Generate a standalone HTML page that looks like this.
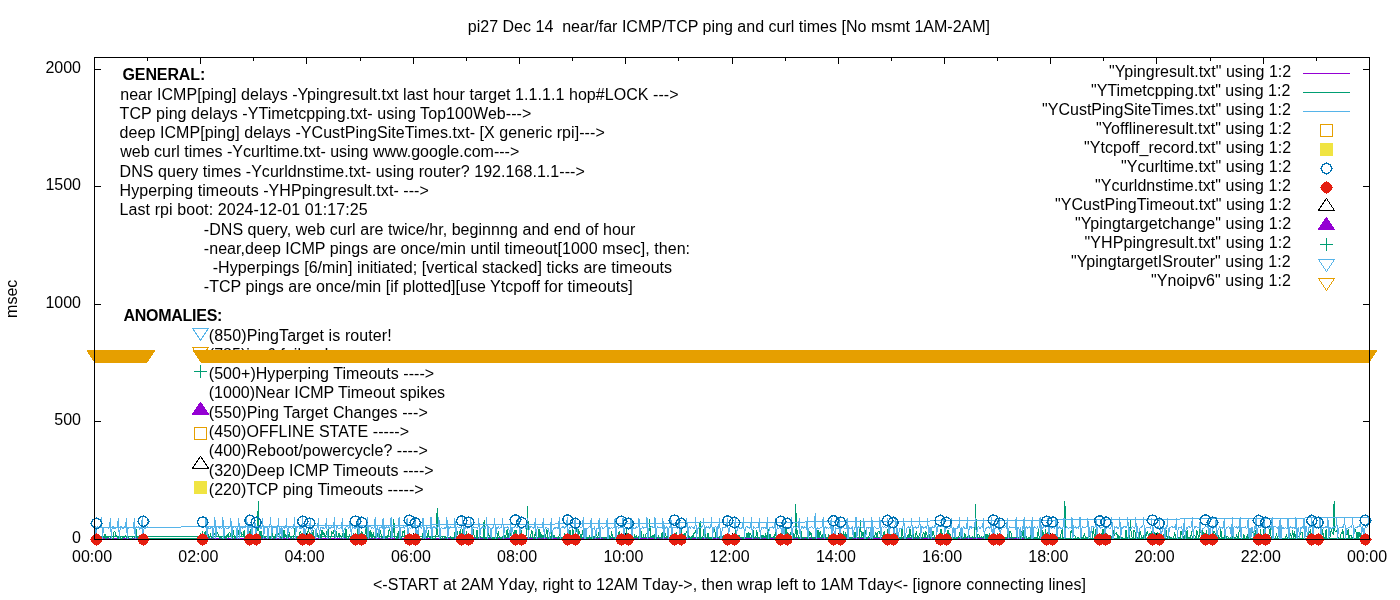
<!DOCTYPE html>
<html lang="en"><head><meta charset="utf-8"><title>pi27 Dec 14 near/far ICMP/TCP ping and curl times</title>
<style>html,body{margin:0;padding:0;background:#fff;}body{width:1400px;height:600px;overflow:hidden;}svg{display:block;}text{font-family:"Liberation Sans",Arial,sans-serif;font-size:16px;fill:#000;white-space:pre;}</style>
</head><body>
<svg width="1400" height="600" viewBox="0 0 1400 600" shape-rendering="crispEdges">
<rect x="0" y="0" width="1400" height="600" fill="#ffffff"/>
<g stroke="#000" stroke-width="1" shape-rendering="crispEdges" fill="none">
<path d="M94.5 539.5V533.0M94.5 57.5V64.0"/>
<path d="M147.5 539.5V536.0M147.5 57.5V61.0"/>
<path d="M200.5 539.5V533.0M200.5 57.5V64.0"/>
<path d="M253.5 539.5V536.0M253.5 57.5V61.0"/>
<path d="M306.5 539.5V533.0M306.5 57.5V64.0"/>
<path d="M360.5 539.5V536.0M360.5 57.5V61.0"/>
<path d="M413.5 539.5V533.0M413.5 57.5V64.0"/>
<path d="M466.5 539.5V536.0M466.5 57.5V61.0"/>
<path d="M519.5 539.5V533.0M519.5 57.5V64.0"/>
<path d="M572.5 539.5V536.0M572.5 57.5V61.0"/>
<path d="M625.5 539.5V533.0M625.5 57.5V64.0"/>
<path d="M678.5 539.5V536.0M678.5 57.5V61.0"/>
<path d="M732.5 539.5V533.0M732.5 57.5V64.0"/>
<path d="M785.5 539.5V536.0M785.5 57.5V61.0"/>
<path d="M838.5 539.5V533.0M838.5 57.5V64.0"/>
<path d="M891.5 539.5V536.0M891.5 57.5V61.0"/>
<path d="M944.5 539.5V533.0M944.5 57.5V64.0"/>
<path d="M997.5 539.5V536.0M997.5 57.5V61.0"/>
<path d="M1050.5 539.5V533.0M1050.5 57.5V64.0"/>
<path d="M1103.5 539.5V536.0M1103.5 57.5V61.0"/>
<path d="M1156.5 539.5V533.0M1156.5 57.5V64.0"/>
<path d="M1210.5 539.5V536.0M1210.5 57.5V61.0"/>
<path d="M1263.5 539.5V533.0M1263.5 57.5V64.0"/>
<path d="M1316.5 539.5V536.0M1316.5 57.5V61.0"/>
<path d="M1369.5 539.5V533.0M1369.5 57.5V64.0"/>
<path d="M94.5 539.5H101.0M1369.5 539.5H1363.0"/>
<path d="M94.5 421.5H101.0M1369.5 421.5H1363.0"/>
<path d="M94.5 304.5H101.0M1369.5 304.5H1363.0"/>
<path d="M94.5 186.5H101.0M1369.5 186.5H1363.0"/>
<path d="M94.5 69.5H101.0M1369.5 69.5H1363.0"/>
</g>
<text x="122.5" y="80" font-weight="bold" textLength="82.76" lengthAdjust="spacing" xml:space="preserve">GENERAL:</text>
<text x="120.2" y="100" textLength="558.3" lengthAdjust="spacing" xml:space="preserve">near ICMP[ping] delays -Ypingresult.txt last hour target 1.1.1.1 hop#LOCK ---&gt;</text>
<text x="119.6" y="119" textLength="411.75" lengthAdjust="spacing" xml:space="preserve">TCP ping delays -YTimetcpping.txt- using Top100Web---&gt;</text>
<text x="119.6" y="138" textLength="485.12" lengthAdjust="spacing" xml:space="preserve">deep ICMP[ping] delays -YCustPingSiteTimes.txt- [X generic rpi]---&gt;</text>
<text x="120.2" y="157" textLength="399.08" lengthAdjust="spacing" xml:space="preserve">web curl times -Ycurltime.txt- using www.google.com---&gt;</text>
<text x="119.6" y="177" textLength="465.17" lengthAdjust="spacing" xml:space="preserve">DNS query times -Ycurldnstime.txt- using router? 192.168.1.1---&gt;</text>
<text x="119.6" y="196" textLength="309.23" lengthAdjust="spacing" xml:space="preserve">Hyperping timeouts -YHPpingresult.txt- ---&gt;</text>
<text x="119.6" y="215" textLength="248.02" lengthAdjust="spacing" xml:space="preserve">Last rpi boot: 2024-12-01 01:17:25</text>
<text x="203.8" y="235" textLength="431.49" lengthAdjust="spacing" xml:space="preserve">-DNS query, web curl are twice/hr, beginnng and end of hour</text>
<text x="203.8" y="254" textLength="486.24" lengthAdjust="spacing" xml:space="preserve">-near,deep ICMP pings are once/min until timeout[1000 msec], then:</text>
<text x="212.7" y="273" textLength="459.4" lengthAdjust="spacing" xml:space="preserve">-Hyperpings [6/min] initiated; [vertical stacked] ticks are timeouts</text>
<text x="203.8" y="292" textLength="428.99" lengthAdjust="spacing" xml:space="preserve">-TCP pings are once/min [if plotted][use Ytcpoff for timeouts]</text>
<text x="123.4" y="321" font-weight="bold" textLength="99.03" lengthAdjust="spacing" xml:space="preserve">ANOMALIES:</text>
<text x="208.8" y="341" textLength="182.93" lengthAdjust="spacing" xml:space="preserve">(850)PingTarget is router!</text>
<text x="208.8" y="360" textLength="119.89" lengthAdjust="spacing" xml:space="preserve">(785)ipv6 failure!</text>
<text x="208.8" y="379" textLength="225.29" lengthAdjust="spacing" xml:space="preserve">(500+)Hyperping Timeouts ----&gt;</text>
<text x="208.8" y="398" textLength="236.25" lengthAdjust="spacing" xml:space="preserve">(1000)Near ICMP Timeout spikes</text>
<text x="208.8" y="418" textLength="218.97" lengthAdjust="spacing" xml:space="preserve">(550)Ping Target Changes ---&gt;</text>
<text x="208.8" y="437" textLength="200.28" lengthAdjust="spacing" xml:space="preserve">(450)OFFLINE STATE -----&gt;</text>
<text x="208.8" y="456" textLength="218.92" lengthAdjust="spacing" xml:space="preserve">(400)Reboot/powercycle? ----&gt;</text>
<text x="208.8" y="476" textLength="224.82" lengthAdjust="spacing" xml:space="preserve">(320)Deep ICMP Timeouts ----&gt;</text>
<text x="208.8" y="495" textLength="214.85" lengthAdjust="spacing" xml:space="preserve">(220)TCP ping Timeouts -----&gt;</text>
<g>
<path d="M200.5 340.3L208.5 328.3H192.5Z" fill="none" stroke="#56b4e9" stroke-width="1" stroke-linejoin="round"/>
<path d="M200.5 359.4L208.5 347.4H192.5Z" fill="none" stroke="#e69f00" stroke-width="1" stroke-linejoin="round"/>
<path d="M193.7 371.5H206.7M200.2 365.0V378.0" fill="none" stroke="#009e73" stroke-width="1"/>
<path d="M200.5 402.2L208.5 414.2H192.5Z" fill="#9400d3" stroke="#9400d3" stroke-width="1" stroke-linejoin="round"/>
<rect x="194.5" y="427.5" width="12" height="12" fill="none" stroke="#e69f00" stroke-width="1"/>
<path d="M200.5 456.2L208.5 468.2H192.5Z" fill="none" stroke="#000000" stroke-width="1" stroke-linejoin="round"/>
<rect x="194.0" y="481.0" width="13" height="13" fill="#f0e442"/>
</g>
<path d="M200.8 538.5L201.6 538.6L202.5 538.5L203.4 538.6L204.3 538.5L205.2 538.5L206.1 538.6L206.9 538.5L207.8 538.6L208.7 538.5L209.6 538.6L210.5 538.6L211.4 538.5L212.3 538.4L213.1 538.6L214.0 538.6L214.9 538.5L215.8 538.4L216.7 538.5L217.6 538.5L218.5 538.4L219.3 538.6L220.2 538.4L221.1 538.5L222.0 538.6L222.9 538.6L223.8 538.5L224.7 538.4L225.5 538.6L226.4 538.5L227.3 538.5L228.2 538.5L229.1 538.5L230.0 538.6L230.9 538.6L231.7 538.6L232.6 538.4L233.5 538.5L234.4 538.5L235.3 538.5L236.2 538.5L237.1 538.5L237.9 538.4L238.8 538.4L239.7 538.5L240.6 538.5L241.5 538.5L242.4 538.4L243.2 538.4L244.1 538.5L245.0 538.4L245.9 538.6L246.8 538.5L247.7 538.4L248.6 538.6L249.4 538.5L250.3 538.6L251.2 538.4L252.1 538.4L253.0 538.5L253.9 538.4L254.8 538.5L255.6 538.4L256.5 538.5L257.4 538.5L258.3 538.5L259.2 538.4L260.1 538.4L261.0 538.5L261.8 538.5L262.7 538.6L263.6 538.4L264.5 538.5L265.4 538.4L266.3 538.4L267.2 538.5L268.0 538.5L268.9 538.4L269.8 538.6L270.7 538.5L271.6 538.6L272.5 538.6L273.4 538.6L274.2 538.4L275.1 538.6L276.0 538.5L276.9 538.5L277.8 538.4L278.7 538.6L279.6 538.5L280.4 538.5L281.3 538.4L282.2 538.4L283.1 538.4L284.0 538.5L284.9 538.5L285.8 538.5L286.6 538.4L287.5 538.4L288.4 538.6L289.3 538.6L290.2 538.6L291.1 538.6L291.9 538.5L292.8 538.5L293.7 538.5L294.6 538.6L295.5 538.5L296.4 538.5L297.3 538.5L298.1 538.4L299.0 538.4L299.9 538.5L300.8 538.5L301.7 538.4L302.6 538.6L303.5 538.4L304.3 538.4L305.2 538.4L306.1 538.4L307.0 538.5L307.9 538.5L308.8 538.6L309.7 538.5L310.5 538.6L311.4 538.6L312.3 538.6L313.2 538.6L314.1 538.5L315.0 538.6L315.9 538.6L316.7 538.6L317.6 538.6L318.5 538.5L319.4 538.6L320.3 538.4L321.2 538.5L322.1 538.6L322.9 538.5L323.8 538.5L324.7 538.5L325.6 538.6L326.5 538.4L327.4 538.4L328.2 538.5L329.1 538.5L330.0 538.6L330.9 538.6L331.8 538.5L332.7 538.5L333.6 538.4L334.4 538.6L335.3 538.6L336.2 538.4L337.1 538.5L338.0 538.6L338.9 538.5L339.8 538.6L340.6 538.5L341.5 538.4L342.4 538.4L343.3 538.4L344.2 538.5L345.1 538.5L346.0 538.6L346.8 538.4L347.7 538.5L348.6 538.4L349.5 538.5L350.4 538.6L351.3 538.4L352.2 538.4L353.0 538.4L353.9 538.4L354.8 538.4L355.7 538.4L356.6 538.6L357.5 538.5L358.4 538.5L359.2 538.6L360.1 538.6L361.0 538.5L361.9 538.5L362.8 538.4L363.7 538.4L364.6 538.5L365.4 538.4L366.3 538.4L367.2 538.4L368.1 538.5L369.0 538.6L369.9 538.6L370.8 538.6L371.6 538.6L372.5 538.5L373.4 538.4L374.3 538.4L375.2 538.5L376.1 538.5L376.9 538.4L377.8 538.6L378.7 538.5L379.6 538.4L380.5 538.4L381.4 538.4L382.3 538.5L383.1 538.6L384.0 538.4L384.9 538.5L385.8 538.4L386.7 538.4L387.6 538.5L388.5 538.5L389.3 538.4L390.2 538.4L391.1 538.6L392.0 538.6L392.9 538.6L393.8 538.4L394.7 538.4L395.5 538.6L396.4 538.4L397.3 538.4L398.2 538.5L399.1 538.5L400.0 538.5L400.9 538.6L401.7 538.6L402.6 538.4L403.5 538.5L404.4 538.5L405.3 538.4L406.2 538.5L407.1 538.4L407.9 538.4L408.8 538.6L409.7 538.5L410.6 538.5L411.5 538.6L412.4 538.5L413.2 538.5L414.1 538.5L415.0 538.6L415.9 538.4L416.8 538.5L417.7 538.5L418.6 538.5L419.4 538.4L420.3 538.5L421.2 538.4L422.1 538.5L423.0 538.5L423.9 538.5L424.8 538.6L425.6 538.5L426.5 538.6L427.4 538.6L428.3 538.4L429.2 538.6L430.1 538.5L431.0 538.4L431.8 538.5L432.7 538.5L433.6 538.5L434.5 538.5L435.4 538.4L436.3 538.6L437.2 538.5L438.0 538.5L438.9 538.5L439.8 538.4L440.7 538.5L441.6 538.5L442.5 538.4L443.4 538.4L444.2 538.5L445.1 538.5L446.0 538.5L446.9 538.5L447.8 538.4L448.7 538.5L449.6 538.5L450.4 538.5L451.3 538.4L452.2 538.4L453.1 538.4L454.0 538.4L454.9 538.5L455.8 538.5L456.6 538.4L457.5 538.4L458.4 538.6L459.3 538.6L460.2 538.5L461.1 538.6L461.9 538.6L462.8 538.6L463.7 538.4L464.6 538.4L465.5 538.4L466.4 538.6L467.3 538.4L468.1 538.5L469.0 538.6L469.9 538.4L470.8 538.4L471.7 538.6L472.6 538.4L473.5 538.5L474.3 538.5L475.2 538.4L476.1 538.4L477.0 538.6L477.9 538.5L478.8 538.5L479.7 538.5L480.5 538.6L481.4 538.5L482.3 538.4L483.2 538.6L484.1 538.5L485.0 538.5L485.9 538.6L486.7 538.5L487.6 538.5L488.5 538.5L489.4 538.6L490.3 538.4L491.2 538.4L492.1 538.4L492.9 538.6L493.8 538.5L494.7 538.6L495.6 538.4L496.5 538.5L497.4 538.6L498.2 538.5L499.1 538.4L500.0 538.4L500.9 538.5L501.8 538.6L502.7 538.4L503.6 538.5L504.4 538.4L505.3 538.6L506.2 538.6L507.1 538.4L508.0 538.5L508.9 538.6L509.8 538.4L510.6 538.5L511.5 538.4L512.4 538.6L513.3 538.4L514.2 538.6L515.1 538.4L516.0 538.5L516.8 538.5L517.7 538.5L518.6 538.4L519.5 538.5L520.4 538.6L521.3 538.5L522.2 538.6L523.0 538.6L523.9 538.6L524.8 538.6L525.7 538.6L526.6 538.5L527.5 538.5L528.4 538.4L529.2 538.5L530.1 538.5L531.0 538.6L531.9 538.5L532.8 538.6L533.7 538.5L534.6 538.6L535.4 538.4L536.3 538.5L537.2 538.6L538.1 538.5L539.0 538.4L539.9 538.6L540.8 538.4L541.6 538.5L542.5 538.5L543.4 538.4L544.3 538.5L545.2 538.5L546.1 538.4L546.9 538.4L547.8 538.5L548.7 538.4L549.6 538.4L550.5 538.5L551.4 538.5L552.3 538.5L553.1 538.6L554.0 538.6L554.9 538.6L555.8 538.4L556.7 538.5L557.6 538.6L558.5 538.6L559.3 538.4L560.2 538.4L561.1 538.4L562.0 538.5L562.9 538.6L563.8 538.5L564.7 538.5L565.5 538.6L566.4 538.5L567.3 538.5L568.2 538.4L569.1 538.4L570.0 538.5L570.9 538.5L571.7 538.4L572.6 538.5L573.5 538.5L574.4 538.6L575.3 538.5L576.2 538.5L577.1 538.5L577.9 538.6L578.8 538.5L579.7 538.6L580.6 538.5L581.5 538.6L582.4 538.5L583.2 538.6L584.1 538.6L585.0 538.5L585.9 538.6L586.8 538.5L587.7 538.5L588.6 538.4L589.4 538.5L590.3 538.4L591.2 538.4L592.1 538.5L593.0 538.5L593.9 538.4L594.8 538.6L595.6 538.4L596.5 538.5L597.4 538.6L598.3 538.4L599.2 538.4L600.1 538.5L601.0 538.4L601.8 538.4L602.7 538.6L603.6 538.5L604.5 538.5L605.4 538.4L606.3 538.4L607.2 538.4L608.0 538.5L608.9 538.4L609.8 538.4L610.7 538.4L611.6 538.6L612.5 538.6L613.4 538.6L614.2 538.5L615.1 538.6L616.0 538.4L616.9 538.5L617.8 538.5L618.7 538.5L619.6 538.4L620.4 538.5L621.3 538.6L622.2 538.4L623.1 538.4L624.0 538.5L624.9 538.5L625.8 538.5L626.6 538.6L627.5 538.4L628.4 538.5L629.3 538.6L630.2 538.5L631.1 538.4L631.9 538.6L632.8 538.4L633.7 538.4L634.6 538.5L635.5 538.5L636.4 538.5L637.3 538.4L638.1 538.4L639.0 538.5L639.9 538.5L640.8 538.6L641.7 538.6L642.6 538.5L643.5 538.4L644.3 538.5L645.2 538.5L646.1 538.6L647.0 538.6L647.9 538.5L648.8 538.4L649.7 538.4L650.5 538.4L651.4 538.5L652.3 538.5L653.2 538.5L654.1 538.5L655.0 538.6L655.9 538.4L656.7 538.6L657.6 538.4L658.5 538.4L659.4 538.6L660.3 538.5L661.2 538.4L662.1 538.4L662.9 538.5L663.8 538.5L664.7 538.6L665.6 538.4L666.5 538.6L667.4 538.5L668.2 538.6L669.1 538.5L670.0 538.4L670.9 538.6L671.8 538.4L672.7 538.5L673.6 538.4L674.4 538.4L675.3 538.6L676.2 538.4L677.1 538.5L678.0 538.6L678.9 538.6L679.8 538.5L680.6 538.5L681.5 538.5L682.4 538.6L683.3 538.5L684.2 538.5L685.1 538.4L686.0 538.6L686.8 538.4L687.7 538.4L688.6 538.6L689.5 538.4L690.4 538.4L691.3 538.4L692.2 538.5L693.0 538.5L693.9 538.5L694.8 538.4L695.7 538.5L696.6 538.5L697.5 538.5L698.4 538.5L699.2 538.6L700.1 538.6L701.0 538.4L701.9 538.5L702.8 538.4L703.7 538.5L704.6 538.5L705.4 538.5L706.3 538.6L707.2 538.5L708.1 538.4L709.0 538.4L709.9 538.4L710.8 538.5L711.6 538.4L712.5 538.4L713.4 538.5L714.3 538.4L715.2 538.6L716.1 538.4L716.9 538.5L717.8 538.4L718.7 538.5L719.6 538.5L720.5 538.6L721.4 538.4L722.3 538.6L723.1 538.5L724.0 538.5L724.9 538.5L725.8 538.4L726.7 538.4L727.6 538.5L728.5 538.5L729.3 538.5L730.2 538.5L731.1 538.5L732.0 538.6L732.9 538.6L733.8 538.6L734.7 538.4L735.5 538.5L736.4 538.6L737.3 538.4L738.2 538.4L739.1 538.5L740.0 538.6L740.9 538.6L741.7 538.6L742.6 538.5L743.5 538.6L744.4 538.6L745.3 538.5L746.2 538.5L747.1 538.4L747.9 538.4L748.8 538.5L749.7 538.5L750.6 538.5L751.5 538.5L752.4 538.5L753.2 538.6L754.1 538.5L755.0 538.4L755.9 538.6L756.8 538.5L757.7 538.5L758.6 538.4L759.4 538.6L760.3 538.5L761.2 538.5L762.1 538.5L763.0 538.5L763.9 538.4L764.8 538.4L765.6 538.4L766.5 538.6L767.4 538.6L768.3 538.4L769.2 538.4L770.1 538.5L771.0 538.5L771.8 538.6L772.7 538.5L773.6 538.4L774.5 538.4L775.4 538.4L776.3 538.4L777.2 538.5L778.0 538.6L778.9 538.6L779.8 538.5L780.7 538.4L781.6 538.4L782.5 538.4L783.4 538.5L784.2 538.4L785.1 538.5L786.0 538.5L786.9 538.6L787.8 538.4L788.7 538.6L789.6 538.4L790.4 538.5L791.3 538.5L792.2 538.6L793.1 538.5L794.0 538.5L794.9 538.4L795.8 538.6L796.6 538.6L797.5 538.5L798.4 538.5L799.3 538.5L800.2 538.6L801.1 538.5L801.9 538.6L802.8 538.5L803.7 538.5L804.6 538.4L805.5 538.5L806.4 538.4L807.3 538.5L808.1 538.6L809.0 538.5L809.9 538.4L810.8 538.4L811.7 538.5L812.6 538.6L813.5 538.5L814.3 538.4L815.2 538.5L816.1 538.5L817.0 538.5L817.9 538.4L818.8 538.6L819.7 538.6L820.5 538.5L821.4 538.5L822.3 538.4L823.2 538.6L824.1 538.4L825.0 538.4L825.9 538.5L826.7 538.6L827.6 538.4L828.5 538.5L829.4 538.4L830.3 538.6L831.2 538.6L832.1 538.4L832.9 538.5L833.8 538.4L834.7 538.5L835.6 538.6L836.5 538.6L837.4 538.5L838.2 538.5L839.1 538.4L840.0 538.6L840.9 538.5L841.8 538.6L842.7 538.4L843.6 538.6L844.4 538.6L845.3 538.6L846.2 538.5L847.1 538.4L848.0 538.4L848.9 538.4L849.8 538.4L850.6 538.4L851.5 538.5L852.4 538.6L853.3 538.4L854.2 538.4L855.1 538.6L856.0 538.5L856.8 538.5L857.7 538.5L858.6 538.5L859.5 538.6L860.4 538.6L861.3 538.5L862.2 538.5L863.0 538.4L863.9 538.6L864.8 538.4L865.7 538.6L866.6 538.5L867.5 538.4L868.4 538.4L869.2 538.5L870.1 538.6L871.0 538.5L871.9 538.5L872.8 538.4L873.7 538.6L874.6 538.5L875.4 538.4L876.3 538.6L877.2 538.5L878.1 538.4L879.0 538.4L879.9 538.6L880.8 538.6L881.6 538.6L882.5 538.4L883.4 538.5L884.3 538.4L885.2 538.4L886.1 538.5L886.9 538.5L887.8 538.4L888.7 538.5L889.6 538.5L890.5 538.4L891.4 538.5L892.3 538.5L893.1 538.6L894.0 538.4L894.9 538.4L895.8 538.5L896.7 538.4L897.6 538.6L898.5 538.6L899.3 538.5L900.2 538.4L901.1 538.4L902.0 538.5L902.9 538.5L903.8 538.5L904.7 538.5L905.5 538.4L906.4 538.6L907.3 538.4L908.2 538.4L909.1 538.4L910.0 538.4L910.9 538.5L911.7 538.5L912.6 538.5L913.5 538.5L914.4 538.4L915.3 538.6L916.2 538.6L917.1 538.4L917.9 538.5L918.8 538.6L919.7 538.6L920.6 538.5L921.5 538.5L922.4 538.4L923.2 538.4L924.1 538.4L925.0 538.5L925.9 538.6L926.8 538.6L927.7 538.5L928.6 538.4L929.4 538.5L930.3 538.6L931.2 538.5L932.1 538.5L933.0 538.4L933.9 538.4L934.8 538.4L935.6 538.5L936.5 538.6L937.4 538.4L938.3 538.5L939.2 538.5L940.1 538.5L941.0 538.4L941.8 538.6L942.7 538.5L943.6 538.5L944.5 538.6L945.4 538.4L946.3 538.5L947.2 538.5L948.0 538.5L948.9 538.4L949.8 538.5L950.7 538.6L951.6 538.4L952.5 538.5L953.4 538.4L954.2 538.6L955.1 538.5L956.0 538.4L956.9 538.4L957.8 538.4L958.7 538.6L959.6 538.5L960.4 538.6L961.3 538.6L962.2 538.4L963.1 538.5L964.0 538.4L964.9 538.5L965.7 538.4L966.6 538.5L967.5 538.5L968.4 538.4L969.3 538.4L970.2 538.6L971.1 538.5L971.9 538.5L972.8 538.6L973.7 538.5L974.6 538.6L975.5 538.6L976.4 538.5L977.3 538.5L978.1 538.5L979.0 538.6L979.9 538.6L980.8 538.5L981.7 538.4L982.6 538.6L983.5 538.5L984.3 538.6L985.2 538.4L986.1 538.5L987.0 538.6L987.9 538.6L988.8 538.5L989.7 538.5L990.5 538.5L991.4 538.6L992.3 538.6L993.2 538.4L994.1 538.5L995.0 538.5L995.9 538.5L996.7 538.4L997.6 538.5L998.5 538.5L999.4 538.5L1000.3 538.5L1001.2 538.4L1002.1 538.4L1002.9 538.5L1003.8 538.6L1004.7 538.4L1005.6 538.6L1006.5 538.6L1007.4 538.4L1008.2 538.5L1009.1 538.4L1010.0 538.5L1010.9 538.4L1011.8 538.5L1012.7 538.6L1013.6 538.6L1014.4 538.5L1015.3 538.5L1016.2 538.4L1017.1 538.6L1018.0 538.5L1018.9 538.5L1019.8 538.5L1020.6 538.6L1021.5 538.5L1022.4 538.5L1023.3 538.4L1024.2 538.6L1025.1 538.5L1026.0 538.4L1026.8 538.4L1027.7 538.6L1028.6 538.6L1029.5 538.4L1030.4 538.4L1031.3 538.5L1032.2 538.6L1033.0 538.4L1033.9 538.5L1034.8 538.4L1035.7 538.5L1036.6 538.4L1037.5 538.6L1038.4 538.4L1039.2 538.6L1040.1 538.5L1041.0 538.4L1041.9 538.4L1042.8 538.6L1043.7 538.6L1044.6 538.5L1045.4 538.5L1046.3 538.5L1047.2 538.6L1048.1 538.5L1049.0 538.4L1049.9 538.4L1050.8 538.6L1051.6 538.5L1052.5 538.4L1053.4 538.6L1054.3 538.4L1055.2 538.6L1056.1 538.5L1056.9 538.5L1057.8 538.5L1058.7 538.5L1059.6 538.5L1060.5 538.5L1061.4 538.5L1062.3 538.5L1063.1 538.5L1064.0 538.5L1064.9 538.6L1065.8 538.5L1066.7 538.5L1067.6 538.6L1068.5 538.4L1069.3 538.4L1070.2 538.5L1071.1 538.6L1072.0 538.5L1072.9 538.6L1073.8 538.6L1074.7 538.5L1075.5 538.6L1076.4 538.5L1077.3 538.5L1078.2 538.6L1079.1 538.5L1080.0 538.6L1080.9 538.4L1081.7 538.4L1082.6 538.5L1083.5 538.6L1084.4 538.5L1085.3 538.5L1086.2 538.4L1087.1 538.6L1087.9 538.4L1088.8 538.4L1089.7 538.4L1090.6 538.4L1091.5 538.6L1092.4 538.4L1093.2 538.5L1094.1 538.4L1095.0 538.4L1095.9 538.6L1096.8 538.4L1097.7 538.4L1098.6 538.6L1099.4 538.5L1100.3 538.4L1101.2 538.6L1102.1 538.4L1103.0 538.5L1103.9 538.4L1104.8 538.6L1105.6 538.5L1106.5 538.4L1107.4 538.6L1108.3 538.5L1109.2 538.5L1110.1 538.5L1111.0 538.6L1111.8 538.6L1112.7 538.6L1113.6 538.4L1114.5 538.4L1115.4 538.4L1116.3 538.6L1117.2 538.4L1118.0 538.6L1118.9 538.5L1119.8 538.5L1120.7 538.5L1121.6 538.4L1122.5 538.5L1123.4 538.5L1124.2 538.4L1125.1 538.6L1126.0 538.4L1126.9 538.5L1127.8 538.5L1128.7 538.4L1129.6 538.5L1130.4 538.4L1131.3 538.5L1132.2 538.5L1133.1 538.4L1134.0 538.5L1134.9 538.6L1135.8 538.4L1136.6 538.6L1137.5 538.4L1138.4 538.5L1139.3 538.5L1140.2 538.4L1141.1 538.5L1141.9 538.5L1142.8 538.5L1143.7 538.6L1144.6 538.6L1145.5 538.6L1146.4 538.5L1147.3 538.5L1148.1 538.5L1149.0 538.4L1149.9 538.6L1150.8 538.6L1151.7 538.5L1152.6 538.6L1153.5 538.6L1154.3 538.5L1155.2 538.6L1156.1 538.5L1157.0 538.6L1157.9 538.5L1158.8 538.5L1159.7 538.6L1160.5 538.5L1161.4 538.5L1162.3 538.6L1163.2 538.4L1164.1 538.5L1165.0 538.6L1165.9 538.6L1166.7 538.5L1167.6 538.4L1168.5 538.4L1169.4 538.5L1170.3 538.5L1171.2 538.6L1172.1 538.5L1172.9 538.5L1173.8 538.5L1174.7 538.5L1175.6 538.5L1176.5 538.4L1177.4 538.4L1178.2 538.5L1179.1 538.4L1180.0 538.6L1180.9 538.5L1181.8 538.5L1182.7 538.6L1183.6 538.6L1184.4 538.4L1185.3 538.6L1186.2 538.5L1187.1 538.4L1188.0 538.6L1188.9 538.6L1189.8 538.5L1190.6 538.5L1191.5 538.5L1192.4 538.4L1193.3 538.6L1194.2 538.5L1195.1 538.5L1196.0 538.6L1196.8 538.4L1197.7 538.4L1198.6 538.4L1199.5 538.6L1200.4 538.4L1201.3 538.4L1202.2 538.5L1203.0 538.4L1203.9 538.5L1204.8 538.6L1205.7 538.6L1206.6 538.6L1207.5 538.6L1208.4 538.5L1209.2 538.4L1210.1 538.4L1211.0 538.4L1211.9 538.4L1212.8 538.5L1213.7 538.5L1214.6 538.5L1215.4 538.4L1216.3 538.5L1217.2 538.5L1218.1 538.5L1219.0 538.4L1219.9 538.6L1220.8 538.4L1221.6 538.6L1222.5 538.5L1223.4 538.6L1224.3 538.4L1225.2 538.4L1226.1 538.4L1226.9 538.5L1227.8 538.4L1228.7 538.5L1229.6 538.6L1230.5 538.4L1231.4 538.5L1232.3 538.4L1233.1 538.5L1234.0 538.4L1234.9 538.5L1235.8 538.4L1236.7 538.4L1237.6 538.4L1238.5 538.5L1239.3 538.4L1240.2 538.5L1241.1 538.5L1242.0 538.6L1242.9 538.5L1243.8 538.6L1244.7 538.4L1245.5 538.6L1246.4 538.6L1247.3 538.6L1248.2 538.4L1249.1 538.5L1250.0 538.6L1250.9 538.6L1251.7 538.6L1252.6 538.4L1253.5 538.5L1254.4 538.4L1255.3 538.4L1256.2 538.6L1257.1 538.5L1257.9 538.5L1258.8 538.4L1259.7 538.4L1260.6 538.4L1261.5 538.6L1262.4 538.4L1263.2 538.4L1264.1 538.4L1265.0 538.6L1265.9 538.6L1266.8 538.6L1267.7 538.6L1268.6 538.4L1269.4 538.4L1270.3 538.5L1271.2 538.4L1272.1 538.5L1273.0 538.5L1273.9 538.6L1274.8 538.6L1275.6 538.4L1276.5 538.6L1277.4 538.5L1278.3 538.5L1279.2 538.6L1280.1 538.5L1281.0 538.5L1281.8 538.4L1282.7 538.5L1283.6 538.5L1284.5 538.4L1285.4 538.5L1286.3 538.4L1287.2 538.5L1288.0 538.6L1288.9 538.5L1289.8 538.5L1290.7 538.4L1291.6 538.5L1292.5 538.4L1293.4 538.5L1294.2 538.6L1295.1 538.4L1296.0 538.6L1296.9 538.4L1297.8 538.6L1298.7 538.6L1299.6 538.6L1300.4 538.4L1301.3 538.4L1302.2 538.6L1303.1 538.5L1304.0 538.5L1304.9 538.4L1305.8 538.6L1306.6 538.5L1307.5 538.5L1308.4 538.4L1309.3 538.5L1310.2 538.4L1311.1 538.5L1311.9 538.6L1312.8 538.4L1313.7 538.5L1314.6 538.6L1315.5 538.5L1316.4 538.6L1317.3 538.4L1318.1 538.4L1319.0 538.4L1319.9 538.5L1320.8 538.5L1321.7 538.5L1322.6 538.5L1323.5 538.4L1324.3 538.6L1325.2 538.4L1326.1 538.6L1327.0 538.6L1327.9 538.5L1328.8 538.4L1329.7 538.5L1330.5 538.5L1331.4 538.4L1332.3 538.6L1333.2 538.5L1334.1 538.5L1335.0 538.4L1335.9 538.4L1336.7 538.5L1337.6 538.5L1338.5 538.5L1339.4 538.6L1340.3 538.4L1341.2 538.5L1342.1 538.4L1342.9 538.6L1343.8 538.5L1344.7 538.4L1345.6 538.5L1346.5 538.6L1347.4 538.5L1348.2 538.4L1349.1 538.6L1350.0 538.6L1350.9 538.5L1351.8 538.4L1352.7 538.4L1353.6 538.6L1354.4 538.6L1355.3 538.5L1356.2 538.5L1357.1 538.5L1358.0 538.6L1358.9 538.5L1359.8 538.6L1360.6 538.4L1361.5 538.4L1362.4 538.6L1363.3 538.4L1364.2 538.6L1365.1 538.5L1366.0 538.4L1366.8 538.4L1367.7 538.4L1368.6 538.5L94.5 538.6L95.4 538.5L96.3 538.6L97.2 538.6L98.0 538.5L98.9 538.6L99.8 538.5L100.7 538.4L101.6 538.4L102.5 538.5L103.4 538.5L104.2 538.5L105.1 538.6L106.0 538.5L106.9 538.5L107.8 538.4L108.7 538.4L109.6 538.5L110.4 538.5L111.3 538.4L112.2 538.5L113.1 538.6L114.0 538.4L114.9 538.4L115.8 538.4L116.6 538.4L117.5 538.4L118.4 538.4L119.3 538.5L120.2 538.5L121.1 538.5L121.9 538.5L122.8 538.6L123.7 538.5L124.6 538.4L125.5 538.4L126.4 538.5L127.3 538.5L128.1 538.5L129.0 538.5L129.9 538.5L130.8 538.5L131.7 538.4L132.6 538.4L133.5 538.6L134.3 538.5L135.2 538.4L136.1 538.5L137.0 538.5L137.9 538.4L138.8 538.6L139.7 538.5L140.5 538.6L141.4 538.4L142.3 538.4L143.2 538.5L144.1 538.6L145.0 538.5L145.9 538.5L146.7 538.4L147.6 538.5" fill="none" stroke="#9400d3" stroke-width="1" shape-rendering="crispEdges" stroke-linejoin="miter"/>
<path d="M200.8 533.2L201.6 538.3L202.5 531.6L203.4 535.2L204.3 536.4L205.2 531.0L206.1 538.5L206.9 538.9L207.8 538.3L208.7 535.3L209.6 538.6L210.5 532.7L211.4 538.6L212.3 535.2L213.1 538.7L214.0 533.3L214.9 534.8L215.8 538.6L216.7 531.0L217.6 533.3L218.5 534.8L219.3 538.1L220.2 537.6L221.1 537.6L222.0 538.3L222.9 538.3L223.8 538.9L224.7 535.7L225.5 538.5L226.4 538.3L227.3 534.0L228.2 537.5L229.1 532.2L230.0 532.9L230.9 536.3L231.7 534.1L232.6 538.9L233.5 529.8L234.4 538.8L235.3 538.6L236.2 535.4L237.1 537.5L237.9 536.2L238.8 530.0L239.7 533.9L240.6 529.3L241.5 536.0L242.4 534.5L243.2 535.0L244.1 530.2L245.0 538.6L245.9 538.2L246.8 538.2L247.7 538.2L248.6 538.1L249.4 532.4L250.3 530.6L251.2 537.9L252.1 531.0L253.0 537.4L253.9 537.9L254.8 536.8L255.6 533.9L256.5 531.1L257.4 530.4L258.3 501.0L259.2 537.8L260.1 535.4L261.0 531.0L261.8 538.1L262.7 536.0L263.6 538.3L264.5 537.6L265.4 537.6L266.3 538.1L267.2 538.1L268.0 529.8L268.9 535.4L269.8 538.5L270.7 537.9L271.6 536.7L272.5 533.0L273.4 538.8L274.2 538.9L275.1 537.5L276.0 534.0L276.9 532.9L277.8 534.2L278.7 533.8L279.6 537.9L280.4 537.9L281.3 537.7L282.2 538.6L283.1 537.7L284.0 529.8L284.9 537.7L285.8 534.4L286.6 538.5L287.5 538.4L288.4 537.9L289.3 532.2L290.2 538.9L291.1 537.7L291.9 537.5L292.8 538.9L293.7 538.0L294.6 528.5L295.5 538.3L296.4 537.9L297.3 538.7L298.1 538.9L299.0 536.4L299.9 532.1L300.8 531.9L301.7 537.8L302.6 537.8L303.5 538.8L304.3 533.7L305.2 529.5L306.1 538.0L307.0 534.9L307.9 531.4L308.8 529.6L309.7 538.9L310.5 533.3L311.4 538.4L312.3 536.2L313.2 530.5L314.1 538.4L315.0 538.2L315.9 536.3L316.7 535.3L317.6 534.1L318.5 538.3L319.4 532.7L320.3 534.4L321.2 538.8L322.1 529.6L322.9 535.4L323.8 532.6L324.7 534.2L325.6 538.3L326.5 530.9L327.4 534.2L328.2 529.2L329.1 538.9L330.0 538.3L330.9 537.7L331.8 532.3L332.7 533.3L333.6 530.2L334.4 537.6L335.3 533.9L336.2 531.1L337.1 538.1L338.0 536.0L338.9 532.8L339.8 538.0L340.6 534.8L341.5 538.5L342.4 533.4L343.3 538.8L344.2 533.5L345.1 538.0L346.0 528.9L346.8 538.2L347.7 538.6L348.6 538.6L349.5 535.3L350.4 538.3L351.3 538.7L352.2 537.4L353.0 538.8L353.9 533.4L354.8 538.0L355.7 538.1L356.6 538.9L357.5 529.0L358.4 538.0L359.2 537.7L360.1 537.5L361.0 533.3L361.9 531.4L362.8 538.6L363.7 538.8L364.6 538.1L365.4 530.6L366.3 528.8L367.2 538.0L368.1 538.7L369.0 531.4L369.9 537.9L370.8 529.8L371.6 538.2L372.5 537.4L373.4 531.6L374.3 538.5L375.2 537.5L376.1 529.1L376.9 537.7L377.8 534.0L378.7 532.2L379.6 537.8L380.5 529.7L381.4 538.0L382.3 536.4L383.1 538.5L384.0 538.2L384.9 538.5L385.8 537.9L386.7 537.8L387.6 538.9L388.5 531.6L389.3 529.0L390.2 531.9L391.1 538.8L392.0 529.1L392.9 534.9L393.8 519.0L394.7 538.0L395.5 538.6L396.4 537.8L397.3 538.7L398.2 531.4L399.1 538.7L400.0 537.6L400.9 538.7L401.7 538.4L402.6 532.0L403.5 532.2L404.4 529.8L405.3 538.2L406.2 538.5L407.1 538.4L407.9 528.5L408.8 532.1L409.7 537.5L410.6 537.8L411.5 537.4L412.4 537.7L413.2 538.7L414.1 537.6L415.0 538.6L415.9 537.5L416.8 538.0L417.7 538.6L418.6 533.7L419.4 538.8L420.3 538.0L421.2 538.5L422.1 538.0L423.0 533.3L423.9 538.6L424.8 537.8L425.6 537.8L426.5 537.7L427.4 537.6L428.3 530.5L429.2 537.5L430.1 537.6L431.0 538.6L431.8 535.3L432.7 538.3L433.6 538.9L434.5 538.2L435.4 538.7L436.3 533.3L437.2 508.0L438.0 535.2L438.9 536.6L439.8 528.6L440.7 538.1L441.6 538.1L442.5 537.4L443.4 538.6L444.2 538.5L445.1 536.8L446.0 537.8L446.9 538.9L447.8 538.0L448.7 537.8L449.6 537.6L450.4 536.7L451.3 538.2L452.2 538.5L453.1 538.3L454.0 538.0L454.9 531.9L455.8 537.8L456.6 537.7L457.5 530.9L458.4 537.6L459.3 538.3L460.2 529.3L461.1 538.5L461.9 538.2L462.8 529.2L463.7 529.2L464.6 532.2L465.5 537.4L466.4 531.5L467.3 537.9L468.1 538.1L469.0 538.3L469.9 538.9L470.8 537.4L471.7 532.7L472.6 533.3L473.5 528.9L474.3 537.9L475.2 537.9L476.1 538.1L477.0 530.0L477.9 538.1L478.8 537.5L479.7 538.4L480.5 536.4L481.4 537.5L482.3 538.5L483.2 538.1L484.1 520.0L485.0 538.5L485.9 538.5L486.7 538.8L487.6 537.6L488.5 534.4L489.4 536.0L490.3 534.9L491.2 538.0L492.1 538.4L492.9 538.6L493.8 538.3L494.7 538.9L495.6 537.6L496.5 538.1L497.4 538.5L498.2 531.3L499.1 536.2L500.0 537.6L500.9 538.8L501.8 538.2L502.7 536.4L503.6 537.4L504.4 536.2L505.3 538.4L506.2 534.2L507.1 529.2L508.0 537.8L508.9 533.5L509.8 537.7L510.6 532.8L511.5 537.6L512.4 537.7L513.3 538.2L514.2 530.2L515.1 537.7L516.0 530.0L516.8 538.2L517.7 537.8L518.6 538.3L519.5 538.3L520.4 537.7L521.3 530.5L522.2 538.6L523.0 538.7L523.9 538.0L524.8 537.5L525.7 537.6L526.6 532.6L527.5 506.0L528.4 532.4L529.2 538.0L530.1 537.5L531.0 534.5L531.9 530.4L532.8 537.9L533.7 538.4L534.6 538.4L535.4 529.7L536.3 538.8L537.2 538.3L538.1 538.0L539.0 528.6L539.9 538.2L540.8 532.5L541.6 538.1L542.5 536.2L543.4 537.4L544.3 534.6L545.2 537.5L546.1 533.3L546.9 528.9L547.8 538.7L548.7 538.1L549.6 538.6L550.5 538.0L551.4 535.3L552.3 529.9L553.1 538.3L554.0 535.5L554.9 536.9L555.8 537.6L556.7 537.9L557.6 538.2L558.5 538.5L559.3 534.5L560.2 530.2L561.1 538.7L562.0 537.8L562.9 538.8L563.8 538.1L564.7 534.2L565.5 536.6L566.4 537.7L567.3 537.8L568.2 538.7L569.1 538.8L570.0 530.1L570.9 538.2L571.7 538.8L572.6 530.1L573.5 530.7L574.4 535.8L575.3 537.5L576.2 531.2L577.1 529.2L577.9 538.0L578.8 530.5L579.7 531.5L580.6 537.8L581.5 538.4L582.4 530.5L583.2 535.8L584.1 538.4L585.0 537.4L585.9 538.1L586.8 538.1L587.7 538.3L588.6 538.7L589.4 535.3L590.3 538.6L591.2 538.6L592.1 537.9L593.0 538.7L593.9 536.5L594.8 537.6L595.6 538.2L596.5 533.3L597.4 538.4L598.3 535.2L599.2 531.6L600.1 530.4L601.0 538.2L601.8 537.8L602.7 537.5L603.6 538.4L604.5 538.0L605.4 537.6L606.3 538.1L607.2 538.5L608.0 535.2L608.9 534.4L609.8 538.3L610.7 538.6L611.6 531.2L612.5 536.4L613.4 538.4L614.2 538.5L615.1 538.4L616.0 538.7L616.9 535.7L617.8 537.5L618.7 533.0L619.6 531.9L620.4 538.9L621.3 534.0L622.2 538.3L623.1 533.8L624.0 537.6L624.9 538.0L625.8 538.7L626.6 529.5L627.5 536.7L628.4 538.7L629.3 538.4L630.2 538.9L631.1 537.9L631.9 537.6L632.8 537.8L633.7 538.2L634.6 535.4L635.5 537.6L636.4 535.6L637.3 537.6L638.1 536.7L639.0 538.7L639.9 536.0L640.8 529.5L641.7 537.9L642.6 537.8L643.5 535.7L644.3 537.5L645.2 537.5L646.1 533.6L647.0 534.1L647.9 538.8L648.8 535.0L649.7 519.0L650.5 537.7L651.4 537.8L652.3 535.7L653.2 537.4L654.1 534.5L655.0 538.8L655.9 538.3L656.7 538.4L657.6 537.8L658.5 535.9L659.4 538.1L660.3 537.5L661.2 538.5L662.1 531.9L662.9 538.4L663.8 534.5L664.7 536.2L665.6 534.2L666.5 537.7L667.4 536.4L668.2 538.4L669.1 538.8L670.0 538.6L670.9 534.9L671.8 538.4L672.7 538.4L673.6 538.8L674.4 537.4L675.3 536.5L676.2 532.5L677.1 538.7L678.0 538.2L678.9 538.1L679.8 537.5L680.6 534.1L681.5 529.8L682.4 538.5L683.3 538.9L684.2 533.2L685.1 538.6L686.0 533.1L686.8 531.8L687.7 533.2L688.6 535.5L689.5 537.7L690.4 538.3L691.3 538.3L692.2 535.8L693.0 538.0L693.9 533.3L694.8 532.9L695.7 530.5L696.6 538.7L697.5 538.0L698.4 537.9L699.2 538.2L700.1 521.0L701.0 538.2L701.9 537.8L702.8 537.6L703.7 529.3L704.6 538.5L705.4 534.6L706.3 538.4L707.2 537.9L708.1 532.9L709.0 538.5L709.9 538.1L710.8 538.6L711.6 538.4L712.5 537.4L713.4 529.0L714.3 528.6L715.2 533.3L716.1 537.9L716.9 535.6L717.8 537.5L718.7 537.9L719.6 538.4L720.5 532.3L721.4 537.9L722.3 538.8L723.1 535.3L724.0 538.3L724.9 538.0L725.8 538.7L726.7 537.6L727.6 538.7L728.5 531.4L729.3 538.1L730.2 538.2L731.1 538.6L732.0 538.7L732.9 538.0L733.8 538.3L734.7 538.2L735.5 530.3L736.4 533.5L737.3 537.4L738.2 536.5L739.1 535.2L740.0 537.4L740.9 537.7L741.7 537.7L742.6 538.6L743.5 538.9L744.4 538.6L745.3 537.8L746.2 537.6L747.1 533.0L747.9 537.5L748.8 531.8L749.7 535.4L750.6 533.9L751.5 536.4L752.4 537.8L753.2 529.6L754.1 538.0L755.0 538.1L755.9 536.4L756.8 529.8L757.7 538.6L758.6 537.6L759.4 538.7L760.3 538.7L761.2 536.1L762.1 538.5L763.0 535.2L763.9 537.6L764.8 537.9L765.6 532.7L766.5 538.4L767.4 538.1L768.3 529.3L769.2 538.6L770.1 533.9L771.0 538.2L771.8 537.6L772.7 537.6L773.6 536.6L774.5 538.6L775.4 530.1L776.3 538.7L777.2 538.2L778.0 538.3L778.9 538.9L779.8 538.4L780.7 538.2L781.6 532.3L782.5 537.9L783.4 538.5L784.2 538.5L785.1 538.1L786.0 528.5L786.9 538.1L787.8 533.0L788.7 534.1L789.6 535.3L790.4 537.7L791.3 528.7L792.2 535.6L793.1 533.6L794.0 537.9L794.9 538.1L795.8 504.0L796.6 538.4L797.5 530.5L798.4 538.5L799.3 538.4L800.2 538.9L801.1 530.6L801.9 538.0L802.8 538.7L803.7 538.5L804.6 537.8L805.5 537.5L806.4 537.5L807.3 538.8L808.1 538.0L809.0 531.0L809.9 535.0L810.8 532.2L811.7 537.5L812.6 538.5L813.5 538.7L814.3 537.8L815.2 538.3L816.1 538.0L817.0 529.9L817.9 537.8L818.8 530.0L819.7 537.7L820.5 531.1L821.4 538.6L822.3 537.6L823.2 532.8L824.1 538.4L825.0 534.0L825.9 537.9L826.7 538.8L827.6 538.8L828.5 535.4L829.4 538.0L830.3 538.2L831.2 537.5L832.1 537.4L832.9 538.0L833.8 535.4L834.7 538.7L835.6 537.7L836.5 537.7L837.4 538.1L838.2 538.1L839.1 534.2L840.0 537.8L840.9 537.8L841.8 533.5L842.7 537.7L843.6 530.6L844.4 538.1L845.3 531.9L846.2 538.2L847.1 533.5L848.0 537.4L848.9 537.8L849.8 538.9L850.6 538.8L851.5 538.1L852.4 537.5L853.3 538.7L854.2 537.8L855.1 531.8L856.0 537.7L856.8 537.4L857.7 537.9L858.6 537.7L859.5 538.4L860.4 520.0L861.3 536.6L862.2 535.1L863.0 532.2L863.9 538.3L864.8 528.7L865.7 535.9L866.6 538.5L867.5 538.6L868.4 537.8L869.2 535.6L870.1 531.6L871.0 538.7L871.9 529.0L872.8 537.8L873.7 535.7L874.6 538.2L875.4 531.8L876.3 534.2L877.2 538.0L878.1 531.6L879.0 531.0L879.9 533.1L880.8 537.6L881.6 531.3L882.5 538.7L883.4 532.4L884.3 531.8L885.2 536.5L886.1 537.9L886.9 538.4L887.8 529.6L888.7 528.5L889.6 538.6L890.5 533.8L891.4 538.1L892.3 538.3L893.1 538.9L894.0 531.2L894.9 532.0L895.8 538.7L896.7 538.6L897.6 536.3L898.5 534.7L899.3 538.4L900.2 537.5L901.1 538.6L902.0 528.9L902.9 535.7L903.8 538.5L904.7 538.8L905.5 538.3L906.4 538.4L907.3 537.9L908.2 534.5L909.1 537.9L910.0 529.0L910.9 535.1L911.7 538.3L912.6 530.9L913.5 538.3L914.4 537.4L915.3 538.0L916.2 531.4L917.1 535.2L917.9 538.6L918.8 537.6L919.7 532.9L920.6 537.9L921.5 537.9L922.4 538.4L923.2 532.4L924.1 533.1L925.0 538.0L925.9 531.5L926.8 533.6L927.7 537.8L928.6 538.1L929.4 533.9L930.3 538.0L931.2 538.6L932.1 535.7L933.0 530.6L933.9 534.6L934.8 538.6L935.6 537.5L936.5 538.1L937.4 537.7L938.3 538.6L939.2 534.9L940.1 533.2L941.0 529.0L941.8 538.3L942.7 533.3L943.6 538.7L944.5 538.8L945.4 537.7L946.3 538.2L947.2 538.3L948.0 529.7L948.9 538.2L949.8 533.5L950.7 537.9L951.6 538.1L952.5 538.3L953.4 538.3L954.2 538.6L955.1 538.8L956.0 537.8L956.9 538.4L957.8 537.6L958.7 537.9L959.6 531.6L960.4 537.7L961.3 535.3L962.2 538.2L963.1 537.8L964.0 538.3L964.9 533.3L965.7 538.3L966.6 537.5L967.5 537.4L968.4 535.3L969.3 535.4L970.2 537.8L971.1 538.1L971.9 537.5L972.8 536.8L973.7 538.2L974.6 537.6L975.5 504.0L976.4 530.7L977.3 538.1L978.1 533.9L979.0 535.1L979.9 537.9L980.8 537.7L981.7 536.4L982.6 538.8L983.5 536.5L984.3 537.8L985.2 538.8L986.1 533.7L987.0 538.8L987.9 535.0L988.8 537.4L989.7 533.0L990.5 538.4L991.4 538.9L992.3 531.4L993.2 538.4L994.1 537.6L995.0 538.1L995.9 538.8L996.7 537.6L997.6 533.1L998.5 538.6L999.4 538.1L1000.3 538.2L1001.2 538.0L1002.1 537.7L1002.9 537.5L1003.8 538.8L1004.7 538.1L1005.6 538.0L1006.5 538.5L1007.4 535.6L1008.2 533.3L1009.1 538.2L1010.0 530.7L1010.9 532.2L1011.8 537.9L1012.7 537.6L1013.6 538.0L1014.4 537.5L1015.3 537.7L1016.2 537.9L1017.1 535.6L1018.0 537.6L1018.9 537.5L1019.8 538.8L1020.6 537.7L1021.5 530.8L1022.4 535.8L1023.3 529.7L1024.2 538.8L1025.1 536.7L1026.0 535.6L1026.8 538.0L1027.7 538.1L1028.6 537.5L1029.5 537.6L1030.4 537.7L1031.3 530.9L1032.2 538.3L1033.0 535.9L1033.9 538.8L1034.8 537.8L1035.7 537.9L1036.6 537.6L1037.5 537.5L1038.4 528.7L1039.2 538.5L1040.1 537.8L1041.0 537.5L1041.9 538.2L1042.8 530.1L1043.7 538.8L1044.6 538.5L1045.4 529.1L1046.3 537.5L1047.2 538.0L1048.1 531.1L1049.0 529.8L1049.9 538.4L1050.8 538.5L1051.6 536.1L1052.5 535.6L1053.4 538.1L1054.3 538.1L1055.2 534.3L1056.1 538.9L1056.9 538.8L1057.8 536.3L1058.7 538.4L1059.6 537.9L1060.5 538.7L1061.4 531.1L1062.3 529.0L1063.1 538.7L1064.0 537.6L1064.9 501.0L1065.8 538.7L1066.7 538.7L1067.6 538.1L1068.5 538.6L1069.3 538.6L1070.2 538.5L1071.1 530.4L1072.0 532.4L1072.9 530.5L1073.8 534.4L1074.7 535.9L1075.5 536.2L1076.4 538.9L1077.3 538.1L1078.2 537.6L1079.1 538.0L1080.0 538.0L1080.9 533.7L1081.7 538.5L1082.6 537.4L1083.5 538.0L1084.4 533.3L1085.3 537.7L1086.2 537.5L1087.1 537.5L1087.9 538.3L1088.8 538.5L1089.7 533.9L1090.6 538.4L1091.5 538.6L1092.4 538.4L1093.2 528.5L1094.1 534.8L1095.0 537.7L1095.9 529.4L1096.8 536.0L1097.7 533.1L1098.6 536.5L1099.4 535.4L1100.3 537.4L1101.2 533.6L1102.1 537.6L1103.0 528.8L1103.9 533.2L1104.8 534.3L1105.6 537.7L1106.5 533.0L1107.4 537.4L1108.3 537.5L1109.2 537.4L1110.1 535.8L1111.0 535.9L1111.8 538.2L1112.7 538.2L1113.6 529.7L1114.5 535.2L1115.4 533.4L1116.3 532.7L1117.2 535.1L1118.0 537.9L1118.9 535.4L1119.8 537.6L1120.7 536.9L1121.6 538.9L1122.5 537.7L1123.4 538.0L1124.2 538.4L1125.1 538.4L1126.0 530.0L1126.9 538.8L1127.8 537.8L1128.7 537.9L1129.6 536.4L1130.4 519.0L1131.3 536.1L1132.2 537.4L1133.1 538.6L1134.0 530.0L1134.9 530.9L1135.8 537.5L1136.6 537.4L1137.5 537.6L1138.4 538.1L1139.3 538.6L1140.2 530.6L1141.1 535.8L1141.9 538.8L1142.8 537.6L1143.7 538.3L1144.6 528.9L1145.5 536.6L1146.4 534.9L1147.3 531.0L1148.1 534.1L1149.0 538.1L1149.9 532.9L1150.8 538.4L1151.7 532.2L1152.6 533.9L1153.5 538.2L1154.3 532.9L1155.2 533.6L1156.1 538.4L1157.0 537.5L1157.9 531.9L1158.8 538.0L1159.7 538.3L1160.5 534.1L1161.4 537.7L1162.3 538.1L1163.2 537.4L1164.1 533.3L1165.0 535.2L1165.9 529.6L1166.7 535.7L1167.6 538.0L1168.5 533.4L1169.4 538.7L1170.3 537.6L1171.2 537.8L1172.1 538.4L1172.9 538.5L1173.8 537.4L1174.7 531.7L1175.6 537.5L1176.5 538.4L1177.4 538.7L1178.2 538.3L1179.1 537.4L1180.0 538.6L1180.9 530.7L1181.8 534.1L1182.7 535.5L1183.6 537.8L1184.4 538.1L1185.3 533.6L1186.2 538.4L1187.1 530.3L1188.0 537.9L1188.9 537.7L1189.8 537.6L1190.6 538.4L1191.5 531.4L1192.4 538.8L1193.3 537.8L1194.2 535.1L1195.1 536.4L1196.0 537.9L1196.8 529.9L1197.7 533.5L1198.6 537.5L1199.5 535.4L1200.4 520.0L1201.3 538.6L1202.2 530.3L1203.0 537.9L1203.9 531.9L1204.8 538.8L1205.7 538.1L1206.6 529.8L1207.5 538.3L1208.4 538.5L1209.2 529.3L1210.1 536.2L1211.0 533.5L1211.9 537.5L1212.8 529.5L1213.7 534.0L1214.6 531.9L1215.4 533.8L1216.3 535.7L1217.2 538.0L1218.1 535.7L1219.0 538.6L1219.9 537.9L1220.8 529.2L1221.6 537.8L1222.5 537.6L1223.4 538.9L1224.3 536.3L1225.2 538.8L1226.1 538.1L1226.9 536.7L1227.8 536.4L1228.7 538.0L1229.6 538.4L1230.5 538.6L1231.4 536.0L1232.3 533.3L1233.1 538.9L1234.0 536.8L1234.9 538.3L1235.8 538.0L1236.7 534.3L1237.6 538.1L1238.5 538.6L1239.3 528.5L1240.2 532.6L1241.1 537.4L1242.0 538.2L1242.9 538.2L1243.8 533.8L1244.7 538.4L1245.5 538.3L1246.4 538.6L1247.3 534.6L1248.2 538.6L1249.1 536.0L1250.0 538.1L1250.9 532.6L1251.7 532.7L1252.6 529.6L1253.5 536.6L1254.4 538.9L1255.3 529.6L1256.2 535.7L1257.1 538.7L1257.9 532.5L1258.8 538.8L1259.7 538.4L1260.6 529.2L1261.5 538.8L1262.4 538.7L1263.2 534.8L1264.1 528.8L1265.0 534.8L1265.9 536.3L1266.8 538.1L1267.7 538.6L1268.6 538.9L1269.4 529.6L1270.3 528.5L1271.2 537.8L1272.1 537.7L1273.0 531.9L1273.9 538.6L1274.8 538.3L1275.6 537.6L1276.5 534.8L1277.4 537.6L1278.3 538.8L1279.2 538.0L1280.1 530.5L1281.0 536.0L1281.8 537.5L1282.7 538.8L1283.6 538.7L1284.5 538.2L1285.4 537.9L1286.3 535.0L1287.2 537.8L1288.0 538.2L1288.9 537.9L1289.8 535.8L1290.7 533.8L1291.6 538.7L1292.5 530.1L1293.4 538.5L1294.2 531.5L1295.1 537.7L1296.0 534.1L1296.9 536.7L1297.8 537.4L1298.7 536.7L1299.6 538.5L1300.4 531.6L1301.3 532.8L1302.2 532.8L1303.1 538.7L1304.0 537.8L1304.9 537.4L1305.8 536.1L1306.6 536.2L1307.5 538.8L1308.4 532.9L1309.3 532.4L1310.2 530.2L1311.1 534.7L1311.9 534.3L1312.8 536.6L1313.7 538.1L1314.6 538.3L1315.5 537.8L1316.4 537.6L1317.3 534.9L1318.1 537.9L1319.0 538.3L1319.9 537.4L1320.8 538.4L1321.7 537.8L1322.6 529.1L1323.5 538.4L1324.3 537.7L1325.2 538.0L1326.1 529.4L1327.0 538.8L1327.9 537.9L1328.8 538.1L1329.7 538.3L1330.5 534.0L1331.4 529.5L1332.3 532.8L1333.2 533.7L1334.1 501.0L1335.0 530.7L1335.9 531.7L1336.7 530.7L1337.6 535.8L1338.5 538.4L1339.4 538.8L1340.3 537.4L1341.2 532.8L1342.1 533.2L1342.9 529.4L1343.8 538.5L1344.7 538.9L1345.6 537.6L1346.5 531.1L1347.4 533.5L1348.2 529.3L1349.1 538.8L1350.0 535.5L1350.9 535.3L1351.8 537.4L1352.7 538.1L1353.6 534.5L1354.4 530.8L1355.3 529.7L1356.2 532.1L1357.1 538.5L1358.0 532.4L1358.9 537.8L1359.8 531.7L1360.6 537.9L1361.5 533.6L1362.4 535.8L1363.3 538.9L1364.2 536.0L1365.1 537.4L1366.0 534.3L1366.8 534.2L1367.7 535.6L1368.6 538.6L94.5 536.4L95.4 538.7L96.3 537.4L97.2 535.7L98.0 536.1L98.9 538.4L99.8 537.9L100.7 537.8L101.6 537.5L102.5 537.6L103.4 537.6L104.2 537.6L105.1 533.9L106.0 538.9L106.9 537.5L107.8 537.9L108.7 537.9L109.6 538.7L110.4 537.4L111.3 537.9L112.2 538.6L113.1 538.9L114.0 531.9L114.9 531.0L115.8 536.3L116.6 535.8L117.5 538.1L118.4 538.5L119.3 535.6L120.2 537.7L121.1 538.6L121.9 538.3L122.8 537.9L123.7 537.6L124.6 537.9L125.5 535.9L126.4 538.2L127.3 538.2L128.1 536.5L129.0 538.2L129.9 538.6L130.8 538.7L131.7 538.4L132.6 537.5L133.5 538.8L134.3 537.8L135.2 537.6L136.1 529.0L137.0 537.5L137.9 538.5L138.8 537.6L139.7 538.8L140.5 537.5L141.4 537.8L142.3 538.2L143.2 538.6L144.1 535.3L145.0 537.4L145.9 538.6L146.7 537.9L147.6 538.9" fill="none" stroke="#009e73" stroke-width="1" shape-rendering="crispEdges" stroke-linejoin="miter"/>
<path d="M143.625 538.5H202.75" stroke="#009e73" stroke-width="1" shape-rendering="crispEdges" fill="none"/>
<path d="M200.8 527.6L201.6 527.4L202.5 527.5L203.4 527.2L204.3 526.8L205.2 527.0L206.1 516.9L206.9 539.1L207.8 527.3L208.7 528.5L209.6 528.6L210.5 528.4L211.4 526.9L212.3 526.5L213.1 538.2L214.0 528.1L214.9 516.8L215.8 538.6L216.7 527.2L217.6 526.7L218.5 526.3L219.3 528.2L220.2 527.9L221.1 527.9L222.0 528.6L222.9 517.0L223.8 538.8L224.7 528.1L225.5 527.4L226.4 528.4L227.3 528.4L228.2 528.3L229.1 527.5L230.0 526.6L230.9 518.1L231.7 538.9L232.6 527.7L233.5 527.1L234.4 526.4L235.3 526.5L236.2 528.6L237.1 538.9L237.9 528.0L238.8 517.7L239.7 538.7L240.6 526.8L241.5 527.5L242.4 528.1L243.2 527.3L244.1 526.6L245.0 528.2L245.9 526.6L246.8 517.2L247.7 539.1L248.6 527.8L249.4 527.1L250.3 526.9L251.2 527.6L252.1 538.7L253.0 527.1L253.9 527.2L254.8 517.1L255.6 539.0L256.5 526.4L257.4 527.7L258.3 526.6L259.2 527.0L260.1 527.1L261.0 528.4L261.8 528.2L262.7 518.1L263.6 539.0L264.5 528.5L265.4 526.5L266.3 527.9L267.2 527.7L268.0 538.5L268.9 528.3L269.8 526.4L270.7 517.3L271.6 538.8L272.5 526.4L273.4 526.9L274.2 528.1L275.1 527.3L276.0 526.6L276.9 538.6L277.8 527.0L278.7 518.3L279.6 538.8L280.4 528.7L281.3 528.1L282.2 539.1L283.1 526.5L284.0 528.3L284.9 527.5L285.8 527.7L286.6 518.3L287.5 539.2L288.4 528.5L289.3 527.1L290.2 526.8L291.1 527.9L291.9 528.2L292.8 527.4L293.7 528.3L294.6 517.2L295.5 538.7L296.4 526.8L297.3 527.3L298.1 527.0L299.0 526.8L299.9 528.5L300.8 527.4L301.7 528.2L302.6 517.3L303.5 539.1L304.3 527.7L305.2 538.4L306.1 528.2L307.0 527.2L307.9 527.2L308.8 528.2L309.7 527.1L310.5 518.0L311.4 538.7L312.3 527.0L313.2 526.8L314.1 527.9L315.0 528.6L315.9 538.7L316.7 528.3L317.6 526.6L318.5 518.2L319.4 538.9L320.3 527.8L321.2 527.4L322.1 528.4L322.9 527.8L323.8 528.1L324.7 528.2L325.6 527.6L326.5 517.7L327.4 538.6L328.2 526.5L329.1 528.4L330.0 527.2L330.9 528.6L331.8 526.6L332.7 527.6L333.6 528.0L334.4 517.1L335.3 539.2L336.2 527.8L337.1 526.4L338.0 528.0L338.9 528.4L339.8 528.5L340.6 527.4L341.5 528.3L342.4 517.6L343.3 539.2L344.2 528.1L345.1 528.4L346.0 526.9L346.8 526.6L347.7 526.4L348.6 528.0L349.5 527.0L350.4 518.0L351.3 539.2L352.2 526.8L353.0 528.1L353.9 527.6L354.8 528.3L355.7 527.9L356.6 526.9L357.5 528.2L358.4 516.9L359.2 539.3L360.1 526.9L361.0 526.6L361.9 527.9L362.8 526.8L363.7 527.8L364.6 527.9L365.4 528.4L366.3 526.6L367.2 516.9L368.1 539.1L369.0 526.5L369.9 526.4L370.8 526.9L371.6 528.1L372.5 527.8L373.4 528.4L374.3 527.9L375.2 517.0L376.1 538.6L376.9 528.4L377.8 526.9L378.7 538.2L379.6 527.4L380.5 527.9L381.4 526.9L382.3 528.2L383.1 518.2L384.0 539.2L384.9 526.8L385.8 528.5L386.7 526.9L387.6 527.6L388.5 526.8L389.3 528.0L390.2 526.6L391.1 517.1L392.0 538.6L392.9 527.3L393.8 527.3L394.7 527.5L395.5 527.7L396.4 527.1L397.3 527.8L398.2 526.4L399.1 516.8L400.0 538.8L400.9 527.7L401.7 527.7L402.6 527.5L403.5 526.8L404.4 528.2L405.3 526.8L406.2 526.6L407.1 517.7L407.9 538.6L408.8 528.2L409.7 527.9L410.6 528.3L411.5 527.5L412.4 528.4L413.2 526.3L414.1 526.8L415.0 517.4L415.9 538.7L416.8 527.8L417.7 538.7L418.6 526.6L419.4 526.4L420.3 526.5L421.2 528.4L422.1 526.8L423.0 517.9L423.9 539.0L424.8 527.5L425.6 538.9L426.5 527.0L427.4 528.1L428.3 527.5L429.2 527.3L430.1 528.2L431.0 517.1L431.8 538.8L432.7 528.0L433.6 526.5L434.5 526.5L435.4 528.5L436.3 526.8L437.2 528.4L438.0 527.2L438.9 517.1L439.8 539.1L440.7 528.3L441.6 527.2L442.5 528.3L443.4 528.5L444.2 527.9L445.1 528.3L446.0 527.7L446.9 516.8L447.8 539.1L448.7 527.3L449.6 528.3L450.4 527.0L451.3 527.7L452.2 527.7L453.1 527.1L454.0 528.3L454.9 518.3L455.8 538.8L456.6 527.9L457.5 526.5L458.4 527.7L459.3 527.4L460.2 527.0L461.1 528.3L461.9 526.7L462.8 517.2L463.7 538.6L464.6 527.4L465.5 528.3L466.4 526.6L467.3 528.6L468.1 527.6L469.0 527.8L469.9 527.9L470.8 517.3L471.7 539.0L472.6 527.8L473.5 526.8L474.3 527.8L475.2 527.8L476.1 527.4L477.0 527.9L477.9 528.3L478.8 518.0L479.7 538.7L480.5 528.3L481.4 528.6L482.3 527.0L483.2 526.6L484.1 527.4L485.0 528.5L485.9 527.7L486.7 516.9L487.6 539.2L488.5 526.6L489.4 527.3L490.3 528.6L491.2 538.4L492.1 527.2L492.9 528.3L493.8 527.3L494.7 517.8L495.6 539.0L496.5 527.8L497.4 528.1L498.2 526.4L499.1 528.3L500.0 528.3L500.9 527.0L501.8 527.4L502.7 517.6L503.6 538.9L504.4 527.6L505.3 527.3L506.2 527.8L507.1 526.7L508.0 527.4L508.9 528.3L509.8 538.3L510.6 517.5L511.5 538.7L512.4 527.7L513.3 527.4L514.2 527.7L515.1 526.4L516.0 527.2L516.8 527.8L517.7 526.6L518.6 517.0L519.5 538.8L520.4 527.9L521.3 528.1L522.2 528.3L523.0 527.5L523.9 526.5L524.8 526.5L525.7 528.3L526.6 527.3L527.5 517.6L528.4 539.2L529.2 526.9L530.1 528.0L531.0 526.6L531.9 527.0L532.8 527.0L533.7 528.5L534.6 527.0L535.4 517.9L536.3 538.6L537.2 526.5L538.1 527.7L539.0 526.8L539.9 527.6L540.8 527.7L541.6 527.6L542.5 526.9L543.4 518.3L544.3 538.9L545.2 527.0L546.1 527.2L546.9 528.1L547.8 528.6L548.7 528.5L549.6 538.7L550.5 527.6L551.4 517.8L552.3 539.1L553.1 528.4L554.0 528.4L554.9 527.5L555.8 528.3L556.7 527.6L557.6 528.1L558.5 528.2L559.3 516.8L560.2 538.8L561.1 527.4L562.0 527.6L562.9 526.5L563.8 527.1L564.7 528.1L565.5 526.8L566.4 526.5L567.3 517.4L568.2 539.1L569.1 528.4L570.0 527.5L570.9 527.8L571.7 526.9L572.6 528.3L573.5 527.8L574.4 526.4L575.3 516.8L576.2 538.9L577.1 539.0L577.9 528.4L578.8 527.2L579.7 526.5L580.6 527.8L581.5 527.2L582.4 526.7L583.2 517.4L584.1 538.6L585.0 528.1L585.9 538.6L586.8 528.2L587.7 528.4L588.6 527.1L589.4 526.5L590.3 527.1L591.2 518.3L592.1 538.6L593.0 528.0L593.9 528.7L594.8 526.6L595.6 539.0L596.5 528.3L597.4 528.5L598.3 528.1L599.2 517.8L600.1 539.0L601.0 527.1L601.8 526.7L602.7 528.4L603.6 528.1L604.5 527.8L605.4 526.4L606.3 526.4L607.2 518.1L608.0 538.9L608.9 527.8L609.8 528.1L610.7 528.3L611.6 527.3L612.5 528.3L613.4 527.3L614.2 527.7L615.1 518.3L616.0 539.1L616.9 526.9L617.8 526.8L618.7 528.5L619.6 527.8L620.4 526.9L621.3 527.1L622.2 527.6L623.1 517.4L624.0 539.2L624.9 528.5L625.8 528.5L626.6 527.7L627.5 527.5L628.4 528.1L629.3 528.0L630.2 526.6L631.1 518.1L631.9 539.2L632.8 526.7L633.7 528.3L634.6 528.6L635.5 527.9L636.4 526.9L637.3 527.5L638.1 527.1L639.0 518.2L639.9 539.3L640.8 528.2L641.7 528.2L642.6 527.1L643.5 527.9L644.3 527.1L645.2 527.7L646.1 527.7L647.0 517.5L647.9 538.6L648.8 528.5L649.7 527.5L650.5 527.1L651.4 526.8L652.3 526.5L653.2 527.6L654.1 527.6L655.0 517.2L655.9 538.6L656.7 528.6L657.6 526.8L658.5 527.9L659.4 527.3L660.3 527.9L661.2 527.8L662.1 528.0L662.9 518.3L663.8 538.8L664.7 526.7L665.6 528.3L666.5 527.0L667.4 527.8L668.2 538.8L669.1 526.6L670.0 527.9L670.9 516.9L671.8 538.6L672.7 527.2L673.6 527.4L674.4 527.5L675.3 527.9L676.2 527.5L677.1 528.2L678.0 527.5L678.9 517.3L679.8 538.9L680.6 528.0L681.5 527.0L682.4 527.5L683.3 526.5L684.2 527.8L685.1 527.7L686.0 526.8L686.8 518.0L687.7 539.0L688.6 528.0L689.5 526.9L690.4 528.2L691.3 526.8L692.2 527.1L693.0 527.1L693.9 528.5L694.8 528.6L695.7 517.2L696.6 538.7L697.5 528.2L698.4 528.4L699.2 527.0L700.1 527.8L701.0 527.5L701.9 526.6L702.8 526.7L703.7 517.8L704.6 539.1L705.4 528.3L706.3 526.5L707.2 527.9L708.1 526.6L709.0 528.2L709.9 527.8L710.8 526.6L711.6 517.4L712.5 539.3L713.4 527.8L714.3 528.7L715.2 526.9L716.1 527.1L716.9 538.5L717.8 527.3L718.7 528.2L719.6 518.0L720.5 538.9L721.4 538.9L722.3 527.2L723.1 527.5L724.0 528.2L724.9 527.7L725.8 526.6L726.7 526.4L727.6 517.9L728.5 539.0L729.3 528.6L730.2 526.8L731.1 526.9L732.0 526.4L732.9 527.8L733.8 527.2L734.7 526.7L735.5 517.0L736.4 539.1L737.3 526.9L738.2 526.4L739.1 527.6L740.0 528.7L740.9 528.5L741.7 527.7L742.6 528.0L743.5 516.7L744.4 538.9L745.3 527.5L746.2 526.7L747.1 526.6L747.9 527.9L748.8 527.4L749.7 528.5L750.6 527.8L751.5 517.5L752.4 539.0L753.2 526.7L754.1 527.7L755.0 527.8L755.9 528.3L756.8 527.1L757.7 527.7L758.6 526.8L759.4 517.7L760.3 539.2L761.2 528.2L762.1 527.1L763.0 527.5L763.9 528.2L764.8 527.2L765.6 528.1L766.5 528.4L767.4 517.5L768.3 538.9L769.2 528.4L770.1 527.2L771.0 528.0L771.8 527.4L772.7 526.9L773.6 528.2L774.5 526.7L775.4 517.8L776.3 538.6L777.2 526.8L778.0 528.4L778.9 528.6L779.8 526.4L780.7 528.1L781.6 528.3L782.5 538.2L783.4 517.0L784.2 538.9L785.1 526.7L786.0 526.6L786.9 528.6L787.8 528.5L788.7 527.2L789.6 528.3L790.4 528.0L791.3 516.9L792.2 539.0L793.1 526.8L794.0 526.5L794.9 527.0L795.8 528.5L796.6 527.4L797.5 526.7L798.4 527.0L799.3 517.6L800.2 538.6L801.1 528.0L801.9 526.7L802.8 527.1L803.7 528.2L804.6 526.4L805.5 527.5L806.4 528.6L807.3 516.9L808.1 539.1L809.0 527.9L809.9 527.1L810.8 527.5L811.7 526.5L812.6 527.5L813.5 528.2L814.3 527.9L815.2 512.7L816.1 538.9L817.0 527.8L817.9 528.2L818.8 528.7L819.7 528.1L820.5 527.4L821.4 527.2L822.3 526.9L823.2 517.1L824.1 538.7L825.0 527.7L825.9 526.5L826.7 528.5L827.6 527.5L828.5 528.2L829.4 527.8L830.3 528.3L831.2 517.6L832.1 539.0L832.9 527.5L833.8 528.7L834.7 538.4L835.6 527.4L836.5 528.2L837.4 528.0L838.2 528.2L839.1 517.7L840.0 539.2L840.9 527.2L841.8 528.3L842.7 527.0L843.6 526.7L844.4 528.6L845.3 528.5L846.2 528.5L847.1 517.9L848.0 539.0L848.9 526.8L849.8 528.4L850.6 528.7L851.5 528.4L852.4 526.9L853.3 538.4L854.2 527.7L855.1 527.8L856.0 516.8L856.8 539.0L857.7 527.7L858.6 526.7L859.5 528.3L860.4 526.6L861.3 527.1L862.2 527.6L863.0 528.1L863.9 518.2L864.8 538.6L865.7 538.5L866.6 527.2L867.5 527.6L868.4 528.0L869.2 527.0L870.1 527.2L871.0 538.7L871.9 517.4L872.8 539.2L873.7 527.1L874.6 526.8L875.4 527.4L876.3 528.4L877.2 528.5L878.1 528.6L879.0 527.8L879.9 517.5L880.8 539.2L881.6 527.5L882.5 526.4L883.4 527.7L884.3 526.4L885.2 527.2L886.1 527.8L886.9 528.0L887.8 517.6L888.7 539.1L889.6 527.7L890.5 528.0L891.4 527.5L892.3 526.5L893.1 528.1L894.0 538.7L894.9 526.5L895.8 517.2L896.7 538.6L897.6 528.4L898.5 538.8L899.3 528.4L900.2 528.7L901.1 528.2L902.0 528.5L902.9 527.5L903.8 517.7L904.7 539.1L905.5 538.4L906.4 528.5L907.3 527.7L908.2 526.7L909.1 528.5L910.0 527.3L910.9 528.0L911.7 517.6L912.6 538.9L913.5 528.0L914.4 527.2L915.3 526.8L916.2 528.2L917.1 527.5L917.9 527.0L918.8 527.7L919.7 516.7L920.6 538.6L921.5 526.5L922.4 526.8L923.2 528.2L924.1 527.2L925.0 527.4L925.9 526.7L926.8 528.1L927.7 517.6L928.6 539.2L929.4 527.1L930.3 527.6L931.2 539.0L932.1 526.4L933.0 527.7L933.9 527.1L934.8 527.2L935.6 517.5L936.5 538.6L937.4 526.4L938.3 526.4L939.2 526.7L940.1 526.9L941.0 526.5L941.8 526.6L942.7 526.8L943.6 517.7L944.5 538.7L945.4 526.7L946.3 528.3L947.2 527.4L948.0 527.9L948.9 528.3L949.8 528.2L950.7 527.9L951.6 517.9L952.5 539.3L953.4 527.7L954.2 528.7L955.1 538.1L956.0 528.2L956.9 528.6L957.8 527.0L958.7 527.5L959.6 516.8L960.4 538.6L961.3 526.6L962.2 538.4L963.1 526.8L964.0 527.4L964.9 528.3L965.7 528.1L966.6 528.2L967.5 517.1L968.4 538.8L969.3 526.5L970.2 527.4L971.1 526.5L971.9 528.5L972.8 527.0L973.7 527.2L974.6 526.5L975.5 517.6L976.4 539.0L977.3 528.4L978.1 526.8L979.0 527.1L979.9 528.4L980.8 527.5L981.7 526.5L982.6 527.6L983.5 518.1L984.3 539.1L985.2 528.5L986.1 528.6L987.0 527.7L987.9 527.7L988.8 526.9L989.7 528.1L990.5 527.5L991.4 517.5L992.3 538.8L993.2 526.3L994.1 539.2L995.0 528.6L995.9 526.7L996.7 526.4L997.6 527.3L998.5 528.7L999.4 517.3L1000.3 538.9L1001.2 527.8L1002.1 527.7L1002.9 527.0L1003.8 527.3L1004.7 527.3L1005.6 526.4L1006.5 528.6L1007.4 517.9L1008.2 538.7L1009.1 526.6L1010.0 527.3L1010.9 528.0L1011.8 527.2L1012.7 527.4L1013.6 527.4L1014.4 527.4L1015.3 528.6L1016.2 517.2L1017.1 538.8L1018.0 527.6L1018.9 527.4L1019.8 538.9L1020.6 526.6L1021.5 538.5L1022.4 526.8L1023.3 527.8L1024.2 517.5L1025.1 539.0L1026.0 527.3L1026.8 526.9L1027.7 528.1L1028.6 527.8L1029.5 526.8L1030.4 527.4L1031.3 538.9L1032.2 516.8L1033.0 538.7L1033.9 527.8L1034.8 526.5L1035.7 527.9L1036.6 528.4L1037.5 527.0L1038.4 528.4L1039.2 527.5L1040.1 517.0L1041.0 538.6L1041.9 526.8L1042.8 528.7L1043.7 526.7L1044.6 526.9L1045.4 527.2L1046.3 526.4L1047.2 526.7L1048.1 517.2L1049.0 538.7L1049.9 527.4L1050.8 528.1L1051.6 528.4L1052.5 526.6L1053.4 527.1L1054.3 528.4L1055.2 526.9L1056.1 517.9L1056.9 538.9L1057.8 526.8L1058.7 528.4L1059.6 526.6L1060.5 528.5L1061.4 528.5L1062.3 528.5L1063.1 527.1L1064.0 517.6L1064.9 539.0L1065.8 528.1L1066.7 527.0L1067.6 527.4L1068.5 528.4L1069.3 528.0L1070.2 527.0L1071.1 527.9L1072.0 517.3L1072.9 539.0L1073.8 526.5L1074.7 527.6L1075.5 526.7L1076.4 528.1L1077.3 527.5L1078.2 528.3L1079.1 526.4L1080.0 517.0L1080.9 539.0L1081.7 528.4L1082.6 527.0L1083.5 527.1L1084.4 527.5L1085.3 527.6L1086.2 526.5L1087.1 526.5L1087.9 518.1L1088.8 538.8L1089.7 526.6L1090.6 538.3L1091.5 526.8L1092.4 526.7L1093.2 526.9L1094.1 527.7L1095.0 526.8L1095.9 516.7L1096.8 539.0L1097.7 527.7L1098.6 526.6L1099.4 527.2L1100.3 528.4L1101.2 527.5L1102.1 527.6L1103.0 527.7L1103.9 518.1L1104.8 538.8L1105.6 527.4L1106.5 528.1L1107.4 527.5L1108.3 526.4L1109.2 528.2L1110.1 528.3L1111.0 526.9L1111.8 517.1L1112.7 538.9L1113.6 539.2L1114.5 527.1L1115.4 527.8L1116.3 526.8L1117.2 528.5L1118.0 527.2L1118.9 528.6L1119.8 517.1L1120.7 539.1L1121.6 527.6L1122.5 528.3L1123.4 526.8L1124.2 527.0L1125.1 526.8L1126.0 527.2L1126.9 527.4L1127.8 517.2L1128.7 538.8L1129.6 528.5L1130.4 528.1L1131.3 528.7L1132.2 526.6L1133.1 527.0L1134.0 528.1L1134.9 528.0L1135.8 517.1L1136.6 538.7L1137.5 526.4L1138.4 538.2L1139.3 528.6L1140.2 527.8L1141.1 527.9L1141.9 526.8L1142.8 526.9L1143.7 517.1L1144.6 538.9L1145.5 528.7L1146.4 527.1L1147.3 527.2L1148.1 527.0L1149.0 528.2L1149.9 527.3L1150.8 528.2L1151.7 518.2L1152.6 538.8L1153.5 527.3L1154.3 527.0L1155.2 526.9L1156.1 528.5L1157.0 527.5L1157.9 526.6L1158.8 528.0L1159.7 517.4L1160.5 538.6L1161.4 538.9L1162.3 527.9L1163.2 527.7L1164.1 528.6L1165.0 538.2L1165.9 528.1L1166.7 528.4L1167.6 518.1L1168.5 538.9L1169.4 527.6L1170.3 527.5L1171.2 527.0L1172.1 526.5L1172.9 527.4L1173.8 527.9L1174.7 526.6L1175.6 528.5L1176.5 518.3L1177.4 539.1L1178.2 527.4L1179.1 527.9L1180.0 527.1L1180.9 527.2L1181.8 526.4L1182.7 538.9L1183.6 528.4L1184.4 518.1L1185.3 539.2L1186.2 527.2L1187.1 528.4L1188.0 526.9L1188.9 526.5L1189.8 527.8L1190.6 527.9L1191.5 526.6L1192.4 516.8L1193.3 538.7L1194.2 526.9L1195.1 527.3L1196.0 526.4L1196.8 526.8L1197.7 527.9L1198.6 527.7L1199.5 528.6L1200.4 517.0L1201.3 538.7L1202.2 528.0L1203.0 528.6L1203.9 528.5L1204.8 527.1L1205.7 526.4L1206.6 526.4L1207.5 527.0L1208.4 518.3L1209.2 539.0L1210.1 527.3L1211.0 538.2L1211.9 539.1L1212.8 526.4L1213.7 528.2L1214.6 526.6L1215.4 527.3L1216.3 516.8L1217.2 539.0L1218.1 528.6L1219.0 528.4L1219.9 526.7L1220.8 528.6L1221.6 527.5L1222.5 528.3L1223.4 526.8L1224.3 517.7L1225.2 539.1L1226.1 527.6L1226.9 527.4L1227.8 527.5L1228.7 526.4L1229.6 528.7L1230.5 528.0L1231.4 538.2L1232.3 516.9L1233.1 538.8L1234.0 526.9L1234.9 527.0L1235.8 527.4L1236.7 526.9L1237.6 527.9L1238.5 526.8L1239.3 528.4L1240.2 517.2L1241.1 538.8L1242.0 526.9L1242.9 527.4L1243.8 527.2L1244.7 527.3L1245.5 526.9L1246.4 528.4L1247.3 527.7L1248.2 517.8L1249.1 539.0L1250.0 527.8L1250.9 538.4L1251.7 527.8L1252.6 527.3L1253.5 538.2L1254.4 526.5L1255.3 527.6L1256.2 516.9L1257.1 539.1L1257.9 528.1L1258.8 526.8L1259.7 527.8L1260.6 526.8L1261.5 526.7L1262.4 527.3L1263.2 527.0L1264.1 518.3L1265.0 539.2L1265.9 526.8L1266.8 527.6L1267.7 526.5L1268.6 528.5L1269.4 527.7L1270.3 526.5L1271.2 528.4L1272.1 517.4L1273.0 539.0L1273.9 526.8L1274.8 527.0L1275.6 526.5L1276.5 527.9L1277.4 528.4L1278.3 527.2L1279.2 539.1L1280.1 518.1L1281.0 538.8L1281.8 526.6L1282.7 528.1L1283.6 528.0L1284.5 528.3L1285.4 527.7L1286.3 528.3L1287.2 528.4L1288.0 517.7L1288.9 539.0L1289.8 527.6L1290.7 526.9L1291.6 527.7L1292.5 528.1L1293.4 527.5L1294.2 527.8L1295.1 528.4L1296.0 517.2L1296.9 538.9L1297.8 528.2L1298.7 527.9L1299.6 538.4L1300.4 527.7L1301.3 528.1L1302.2 526.8L1303.1 527.9L1304.0 517.9L1304.9 538.7L1305.8 526.8L1306.6 526.6L1307.5 539.1L1308.4 528.1L1309.3 526.8L1310.2 527.7L1311.1 526.4L1311.9 518.3L1312.8 539.1L1313.7 526.7L1314.6 527.2L1315.5 526.6L1316.4 528.5L1317.3 526.8L1318.1 527.2L1319.0 528.0L1319.9 516.7L1320.8 538.8L1321.7 527.9L1322.6 527.7L1323.5 528.1L1324.3 527.2L1325.2 527.5L1326.1 526.6L1327.0 528.3L1327.9 517.6L1328.8 538.8L1329.7 526.6L1330.5 528.6L1331.4 528.6L1332.3 528.4L1333.2 526.9L1334.1 528.0L1335.0 527.1L1335.9 527.1L1336.7 518.1L1337.6 539.0L1338.5 528.4L1339.4 527.7L1340.3 527.8L1341.2 527.4L1342.1 526.8L1342.9 527.9L1343.8 526.7L1344.7 517.5L1345.6 538.9L1346.5 528.4L1347.4 528.5L1348.2 527.9L1349.1 527.4L1350.0 527.0L1350.9 526.8L1351.8 527.9L1352.7 517.2L1353.6 539.0L1354.4 528.3L1355.3 527.6L1356.2 527.9L1357.1 527.5L1358.0 526.6L1358.9 527.1L1359.8 526.7L1360.6 517.8L1361.5 538.6L1362.4 526.8L1363.3 528.5L1364.2 538.3L1365.1 527.4L1366.0 527.4L1366.8 527.4L1367.7 526.5L1368.6 517.5L94.5 527.7L95.4 527.1L96.3 539.0L97.2 526.9L98.0 527.4L98.9 528.3L99.8 526.6L100.7 527.8L101.6 516.8L102.5 538.8L103.4 528.0L104.2 527.5L105.1 527.8L106.0 527.1L106.9 527.4L107.8 527.4L108.7 528.7L109.6 527.0L110.4 518.1L111.3 538.8L112.2 526.8L113.1 526.4L114.0 528.6L114.9 528.5L115.8 527.9L116.6 527.6L117.5 526.6L118.4 517.6L119.3 538.8L120.2 527.9L121.1 526.4L121.9 526.7L122.8 528.4L123.7 528.4L124.6 526.4L125.5 526.4L126.4 518.3L127.3 539.2L128.1 527.4L129.0 527.1L129.9 527.3L130.8 527.0L131.7 527.0L132.6 527.6L133.5 528.6L134.3 518.0L135.2 538.6L136.1 526.7L137.0 527.5L137.9 528.1L138.8 526.4L139.7 528.7L140.5 527.9L141.4 528.4L142.3 516.9L143.2 539.0L144.1 528.3L145.0 527.3L145.9 528.5L146.7 527.0L147.6 526.5" fill="none" stroke="#56b4e9" stroke-width="1" shape-rendering="crispEdges" stroke-linejoin="miter"/>
<g>
<circle cx="96.5" cy="523.4" r="5.0" fill="none" stroke="#0072b2" stroke-width="1.35"/><path d="M90.3 523.4h1.5M101.2 523.4h1.5M96.5 517.1999999999999v1.5M96.5 528.1v1.5" stroke="#0072b2" stroke-width="1" fill="none"/>
<circle cx="143.3" cy="521.3" r="5.0" fill="none" stroke="#0072b2" stroke-width="1.35"/><path d="M137.10000000000002 521.3h1.5M148.0 521.3h1.5M143.3 515.0999999999999v1.5M143.3 526.0v1.5" stroke="#0072b2" stroke-width="1" fill="none"/>
<circle cx="202.7" cy="522.0" r="5.0" fill="none" stroke="#0072b2" stroke-width="1.35"/><path d="M196.5 522.0h1.5M207.39999999999998 522.0h1.5M202.7 515.8v1.5M202.7 526.7v1.5" stroke="#0072b2" stroke-width="1" fill="none"/>
<circle cx="249.9" cy="520.2" r="5.0" fill="none" stroke="#0072b2" stroke-width="1.35"/><path d="M243.70000000000002 520.2h1.5M254.6 520.2h1.5M249.9 514.0v1.5M249.9 524.9000000000001v1.5" stroke="#0072b2" stroke-width="1" fill="none"/>
<circle cx="256.1" cy="522.5" r="5.0" fill="none" stroke="#0072b2" stroke-width="1.35"/><path d="M249.90000000000003 522.5h1.5M260.8 522.5h1.5M256.1 516.3v1.5M256.1 527.2v1.5" stroke="#0072b2" stroke-width="1" fill="none"/>
<circle cx="302.7" cy="521.3" r="5.0" fill="none" stroke="#0072b2" stroke-width="1.35"/><path d="M296.5 521.3h1.5M307.4 521.3h1.5M302.7 515.0999999999999v1.5M302.7 526.0v1.5" stroke="#0072b2" stroke-width="1" fill="none"/>
<circle cx="309.6" cy="523.2" r="5.0" fill="none" stroke="#0072b2" stroke-width="1.35"/><path d="M303.40000000000003 523.2h1.5M314.3 523.2h1.5M309.6 517.0v1.5M309.6 527.9000000000001v1.5" stroke="#0072b2" stroke-width="1" fill="none"/>
<circle cx="355.5" cy="521.1" r="5.0" fill="none" stroke="#0072b2" stroke-width="1.35"/><path d="M349.3 521.1h1.5M360.2 521.1h1.5M355.5 514.9v1.5M355.5 525.8000000000001v1.5" stroke="#0072b2" stroke-width="1" fill="none"/>
<circle cx="361.8" cy="522.6" r="5.0" fill="none" stroke="#0072b2" stroke-width="1.35"/><path d="M355.6 522.6h1.5M366.5 522.6h1.5M361.8 516.4v1.5M361.8 527.3000000000001v1.5" stroke="#0072b2" stroke-width="1" fill="none"/>
<circle cx="409.3" cy="520.2" r="5.0" fill="none" stroke="#0072b2" stroke-width="1.35"/><path d="M403.1 520.2h1.5M414.0 520.2h1.5M409.3 514.0v1.5M409.3 524.9000000000001v1.5" stroke="#0072b2" stroke-width="1" fill="none"/>
<circle cx="415.3" cy="522.8" r="5.0" fill="none" stroke="#0072b2" stroke-width="1.35"/><path d="M409.1 522.8h1.5M420.0 522.8h1.5M415.3 516.5999999999999v1.5M415.3 527.5v1.5" stroke="#0072b2" stroke-width="1" fill="none"/>
<circle cx="461.7" cy="520.9" r="5.0" fill="none" stroke="#0072b2" stroke-width="1.35"/><path d="M455.5 520.9h1.5M466.4 520.9h1.5M461.7 514.6999999999999v1.5M461.7 525.6v1.5" stroke="#0072b2" stroke-width="1" fill="none"/>
<circle cx="468.7" cy="522.1" r="5.0" fill="none" stroke="#0072b2" stroke-width="1.35"/><path d="M462.5 522.1h1.5M473.4 522.1h1.5M468.7 515.9v1.5M468.7 526.8000000000001v1.5" stroke="#0072b2" stroke-width="1" fill="none"/>
<circle cx="515.5" cy="519.9" r="5.0" fill="none" stroke="#0072b2" stroke-width="1.35"/><path d="M509.3 519.9h1.5M520.2 519.9h1.5M515.5 513.6999999999999v1.5M515.5 524.6v1.5" stroke="#0072b2" stroke-width="1" fill="none"/>
<circle cx="521.8" cy="522.5" r="5.0" fill="none" stroke="#0072b2" stroke-width="1.35"/><path d="M515.5999999999999 522.5h1.5M526.5 522.5h1.5M521.8 516.3v1.5M521.8 527.2v1.5" stroke="#0072b2" stroke-width="1" fill="none"/>
<circle cx="567.9" cy="519.9" r="5.0" fill="none" stroke="#0072b2" stroke-width="1.35"/><path d="M561.6999999999999 519.9h1.5M572.6 519.9h1.5M567.9 513.6999999999999v1.5M567.9 524.6v1.5" stroke="#0072b2" stroke-width="1" fill="none"/>
<circle cx="575.2" cy="523.1" r="5.0" fill="none" stroke="#0072b2" stroke-width="1.35"/><path d="M569.0 523.1h1.5M579.9000000000001 523.1h1.5M575.2 516.9v1.5M575.2 527.8000000000001v1.5" stroke="#0072b2" stroke-width="1" fill="none"/>
<circle cx="621.3" cy="521.1" r="5.0" fill="none" stroke="#0072b2" stroke-width="1.35"/><path d="M615.0999999999999 521.1h1.5M626.0 521.1h1.5M621.3 514.9v1.5M621.3 525.8000000000001v1.5" stroke="#0072b2" stroke-width="1" fill="none"/>
<circle cx="628.3" cy="523.3" r="5.0" fill="none" stroke="#0072b2" stroke-width="1.35"/><path d="M622.0999999999999 523.3h1.5M633.0 523.3h1.5M628.3 517.0999999999999v1.5M628.3 528.0v1.5" stroke="#0072b2" stroke-width="1" fill="none"/>
<circle cx="674.5" cy="520.2" r="5.0" fill="none" stroke="#0072b2" stroke-width="1.35"/><path d="M668.3 520.2h1.5M679.2 520.2h1.5M674.5 514.0v1.5M674.5 524.9000000000001v1.5" stroke="#0072b2" stroke-width="1" fill="none"/>
<circle cx="681.0" cy="523.4" r="5.0" fill="none" stroke="#0072b2" stroke-width="1.35"/><path d="M674.8 523.4h1.5M685.7 523.4h1.5M681.0 517.1999999999999v1.5M681.0 528.1v1.5" stroke="#0072b2" stroke-width="1" fill="none"/>
<circle cx="727.8" cy="520.9" r="5.0" fill="none" stroke="#0072b2" stroke-width="1.35"/><path d="M721.5999999999999 520.9h1.5M732.5 520.9h1.5M727.8 514.6999999999999v1.5M727.8 525.6v1.5" stroke="#0072b2" stroke-width="1" fill="none"/>
<circle cx="734.5" cy="522.6" r="5.0" fill="none" stroke="#0072b2" stroke-width="1.35"/><path d="M728.3 522.6h1.5M739.2 522.6h1.5M734.5 516.4v1.5M734.5 527.3000000000001v1.5" stroke="#0072b2" stroke-width="1" fill="none"/>
<circle cx="780.8" cy="521.2" r="5.0" fill="none" stroke="#0072b2" stroke-width="1.35"/><path d="M774.5999999999999 521.2h1.5M785.5 521.2h1.5M780.8 515.0v1.5M780.8 525.9000000000001v1.5" stroke="#0072b2" stroke-width="1" fill="none"/>
<circle cx="787.0" cy="523.2" r="5.0" fill="none" stroke="#0072b2" stroke-width="1.35"/><path d="M780.8 523.2h1.5M791.7 523.2h1.5M787.0 517.0v1.5M787.0 527.9000000000001v1.5" stroke="#0072b2" stroke-width="1" fill="none"/>
<circle cx="833.4" cy="520.7" r="5.0" fill="none" stroke="#0072b2" stroke-width="1.35"/><path d="M827.1999999999999 520.7h1.5M838.1 520.7h1.5M833.4 514.5v1.5M833.4 525.4000000000001v1.5" stroke="#0072b2" stroke-width="1" fill="none"/>
<circle cx="840.5" cy="522.2" r="5.0" fill="none" stroke="#0072b2" stroke-width="1.35"/><path d="M834.3 522.2h1.5M845.2 522.2h1.5M840.5 516.0v1.5M840.5 526.9000000000001v1.5" stroke="#0072b2" stroke-width="1" fill="none"/>
<circle cx="887.4" cy="520.5" r="5.0" fill="none" stroke="#0072b2" stroke-width="1.35"/><path d="M881.1999999999999 520.5h1.5M892.1 520.5h1.5M887.4 514.3v1.5M887.4 525.2v1.5" stroke="#0072b2" stroke-width="1" fill="none"/>
<circle cx="893.2" cy="522.6" r="5.0" fill="none" stroke="#0072b2" stroke-width="1.35"/><path d="M887.0 522.6h1.5M897.9000000000001 522.6h1.5M893.2 516.4v1.5M893.2 527.3000000000001v1.5" stroke="#0072b2" stroke-width="1" fill="none"/>
<circle cx="940.2" cy="520.5" r="5.0" fill="none" stroke="#0072b2" stroke-width="1.35"/><path d="M934.0 520.5h1.5M944.9000000000001 520.5h1.5M940.2 514.3v1.5M940.2 525.2v1.5" stroke="#0072b2" stroke-width="1" fill="none"/>
<circle cx="946.2" cy="522.1" r="5.0" fill="none" stroke="#0072b2" stroke-width="1.35"/><path d="M940.0 522.1h1.5M950.9000000000001 522.1h1.5M946.2 515.9v1.5M946.2 526.8000000000001v1.5" stroke="#0072b2" stroke-width="1" fill="none"/>
<circle cx="993.4" cy="520.0" r="5.0" fill="none" stroke="#0072b2" stroke-width="1.35"/><path d="M987.1999999999999 520.0h1.5M998.1 520.0h1.5M993.4 513.8v1.5M993.4 524.7v1.5" stroke="#0072b2" stroke-width="1" fill="none"/>
<circle cx="999.6" cy="523.1" r="5.0" fill="none" stroke="#0072b2" stroke-width="1.35"/><path d="M993.4 523.1h1.5M1004.3000000000001 523.1h1.5M999.6 516.9v1.5M999.6 527.8000000000001v1.5" stroke="#0072b2" stroke-width="1" fill="none"/>
<circle cx="1046.7" cy="521.2" r="5.0" fill="none" stroke="#0072b2" stroke-width="1.35"/><path d="M1040.5 521.2h1.5M1051.4 521.2h1.5M1046.7 515.0v1.5M1046.7 525.9000000000001v1.5" stroke="#0072b2" stroke-width="1" fill="none"/>
<circle cx="1052.6" cy="522.0" r="5.0" fill="none" stroke="#0072b2" stroke-width="1.35"/><path d="M1046.3999999999999 522.0h1.5M1057.3 522.0h1.5M1052.6 515.8v1.5M1052.6 526.7v1.5" stroke="#0072b2" stroke-width="1" fill="none"/>
<circle cx="1099.7" cy="520.8" r="5.0" fill="none" stroke="#0072b2" stroke-width="1.35"/><path d="M1093.5 520.8h1.5M1104.4 520.8h1.5M1099.7 514.5999999999999v1.5M1099.7 525.5v1.5" stroke="#0072b2" stroke-width="1" fill="none"/>
<circle cx="1105.9" cy="522.0" r="5.0" fill="none" stroke="#0072b2" stroke-width="1.35"/><path d="M1099.7 522.0h1.5M1110.6000000000001 522.0h1.5M1105.9 515.8v1.5M1105.9 526.7v1.5" stroke="#0072b2" stroke-width="1" fill="none"/>
<circle cx="1152.5" cy="520.2" r="5.0" fill="none" stroke="#0072b2" stroke-width="1.35"/><path d="M1146.3 520.2h1.5M1157.2 520.2h1.5M1152.5 514.0v1.5M1152.5 524.9000000000001v1.5" stroke="#0072b2" stroke-width="1" fill="none"/>
<circle cx="1159.2" cy="523.4" r="5.0" fill="none" stroke="#0072b2" stroke-width="1.35"/><path d="M1153.0 523.4h1.5M1163.9 523.4h1.5M1159.2 517.1999999999999v1.5M1159.2 528.1v1.5" stroke="#0072b2" stroke-width="1" fill="none"/>
<circle cx="1205.4" cy="519.9" r="5.0" fill="none" stroke="#0072b2" stroke-width="1.35"/><path d="M1199.2 519.9h1.5M1210.1000000000001 519.9h1.5M1205.4 513.6999999999999v1.5M1205.4 524.6v1.5" stroke="#0072b2" stroke-width="1" fill="none"/>
<circle cx="1212.5" cy="522.2" r="5.0" fill="none" stroke="#0072b2" stroke-width="1.35"/><path d="M1206.3 522.2h1.5M1217.2 522.2h1.5M1212.5 516.0v1.5M1212.5 526.9000000000001v1.5" stroke="#0072b2" stroke-width="1" fill="none"/>
<circle cx="1258.6" cy="520.5" r="5.0" fill="none" stroke="#0072b2" stroke-width="1.35"/><path d="M1252.3999999999999 520.5h1.5M1263.3 520.5h1.5M1258.6 514.3v1.5M1258.6 525.2v1.5" stroke="#0072b2" stroke-width="1" fill="none"/>
<circle cx="1265.8" cy="522.5" r="5.0" fill="none" stroke="#0072b2" stroke-width="1.35"/><path d="M1259.6 522.5h1.5M1270.5 522.5h1.5M1265.8 516.3v1.5M1265.8 527.2v1.5" stroke="#0072b2" stroke-width="1" fill="none"/>
<circle cx="1311.8" cy="520.6" r="5.0" fill="none" stroke="#0072b2" stroke-width="1.35"/><path d="M1305.6 520.6h1.5M1316.5 520.6h1.5M1311.8 514.4v1.5M1311.8 525.3000000000001v1.5" stroke="#0072b2" stroke-width="1" fill="none"/>
<circle cx="1318.2" cy="522.6" r="5.0" fill="none" stroke="#0072b2" stroke-width="1.35"/><path d="M1312.0 522.6h1.5M1322.9 522.6h1.5M1318.2 516.4v1.5M1318.2 527.3000000000001v1.5" stroke="#0072b2" stroke-width="1" fill="none"/>
<circle cx="1365.3" cy="520.3" r="5.0" fill="none" stroke="#0072b2" stroke-width="1.35"/><path d="M1359.1 520.3h1.5M1370.0 520.3h1.5M1365.3 514.0999999999999v1.5M1365.3 525.0v1.5" stroke="#0072b2" stroke-width="1" fill="none"/>
<circle cx="96.5" cy="539.5" r="5.6" fill="#e51e10"/><path d="M90.3 539.5h1.5M101.2 539.5h1.5M96.5 533.3v1.5M96.5 544.2v1.5" stroke="#e51e10" stroke-width="1" fill="none"/>
<circle cx="143.3" cy="539.5" r="5.6" fill="#e51e10"/><path d="M137.10000000000002 539.5h1.5M148.0 539.5h1.5M143.3 533.3v1.5M143.3 544.2v1.5" stroke="#e51e10" stroke-width="1" fill="none"/>
<circle cx="202.7" cy="539.5" r="5.6" fill="#e51e10"/><path d="M196.5 539.5h1.5M207.39999999999998 539.5h1.5M202.7 533.3v1.5M202.7 544.2v1.5" stroke="#e51e10" stroke-width="1" fill="none"/>
<circle cx="249.9" cy="539.5" r="5.6" fill="#e51e10"/><path d="M243.70000000000002 539.5h1.5M254.6 539.5h1.5M249.9 533.3v1.5M249.9 544.2v1.5" stroke="#e51e10" stroke-width="1" fill="none"/>
<circle cx="256.1" cy="539.5" r="5.6" fill="#e51e10"/><path d="M249.90000000000003 539.5h1.5M260.8 539.5h1.5M256.1 533.3v1.5M256.1 544.2v1.5" stroke="#e51e10" stroke-width="1" fill="none"/>
<circle cx="302.7" cy="539.5" r="5.6" fill="#e51e10"/><path d="M296.5 539.5h1.5M307.4 539.5h1.5M302.7 533.3v1.5M302.7 544.2v1.5" stroke="#e51e10" stroke-width="1" fill="none"/>
<circle cx="309.6" cy="539.5" r="5.6" fill="#e51e10"/><path d="M303.40000000000003 539.5h1.5M314.3 539.5h1.5M309.6 533.3v1.5M309.6 544.2v1.5" stroke="#e51e10" stroke-width="1" fill="none"/>
<circle cx="355.5" cy="539.5" r="5.6" fill="#e51e10"/><path d="M349.3 539.5h1.5M360.2 539.5h1.5M355.5 533.3v1.5M355.5 544.2v1.5" stroke="#e51e10" stroke-width="1" fill="none"/>
<circle cx="361.8" cy="539.5" r="5.6" fill="#e51e10"/><path d="M355.6 539.5h1.5M366.5 539.5h1.5M361.8 533.3v1.5M361.8 544.2v1.5" stroke="#e51e10" stroke-width="1" fill="none"/>
<circle cx="409.3" cy="539.5" r="5.6" fill="#e51e10"/><path d="M403.1 539.5h1.5M414.0 539.5h1.5M409.3 533.3v1.5M409.3 544.2v1.5" stroke="#e51e10" stroke-width="1" fill="none"/>
<circle cx="415.3" cy="539.5" r="5.6" fill="#e51e10"/><path d="M409.1 539.5h1.5M420.0 539.5h1.5M415.3 533.3v1.5M415.3 544.2v1.5" stroke="#e51e10" stroke-width="1" fill="none"/>
<circle cx="461.7" cy="539.5" r="5.6" fill="#e51e10"/><path d="M455.5 539.5h1.5M466.4 539.5h1.5M461.7 533.3v1.5M461.7 544.2v1.5" stroke="#e51e10" stroke-width="1" fill="none"/>
<circle cx="468.7" cy="539.5" r="5.6" fill="#e51e10"/><path d="M462.5 539.5h1.5M473.4 539.5h1.5M468.7 533.3v1.5M468.7 544.2v1.5" stroke="#e51e10" stroke-width="1" fill="none"/>
<circle cx="515.5" cy="539.5" r="5.6" fill="#e51e10"/><path d="M509.3 539.5h1.5M520.2 539.5h1.5M515.5 533.3v1.5M515.5 544.2v1.5" stroke="#e51e10" stroke-width="1" fill="none"/>
<circle cx="521.8" cy="539.5" r="5.6" fill="#e51e10"/><path d="M515.5999999999999 539.5h1.5M526.5 539.5h1.5M521.8 533.3v1.5M521.8 544.2v1.5" stroke="#e51e10" stroke-width="1" fill="none"/>
<circle cx="567.9" cy="539.5" r="5.6" fill="#e51e10"/><path d="M561.6999999999999 539.5h1.5M572.6 539.5h1.5M567.9 533.3v1.5M567.9 544.2v1.5" stroke="#e51e10" stroke-width="1" fill="none"/>
<circle cx="575.2" cy="539.5" r="5.6" fill="#e51e10"/><path d="M569.0 539.5h1.5M579.9000000000001 539.5h1.5M575.2 533.3v1.5M575.2 544.2v1.5" stroke="#e51e10" stroke-width="1" fill="none"/>
<circle cx="621.3" cy="539.5" r="5.6" fill="#e51e10"/><path d="M615.0999999999999 539.5h1.5M626.0 539.5h1.5M621.3 533.3v1.5M621.3 544.2v1.5" stroke="#e51e10" stroke-width="1" fill="none"/>
<circle cx="628.3" cy="539.5" r="5.6" fill="#e51e10"/><path d="M622.0999999999999 539.5h1.5M633.0 539.5h1.5M628.3 533.3v1.5M628.3 544.2v1.5" stroke="#e51e10" stroke-width="1" fill="none"/>
<circle cx="674.5" cy="539.5" r="5.6" fill="#e51e10"/><path d="M668.3 539.5h1.5M679.2 539.5h1.5M674.5 533.3v1.5M674.5 544.2v1.5" stroke="#e51e10" stroke-width="1" fill="none"/>
<circle cx="681.0" cy="539.5" r="5.6" fill="#e51e10"/><path d="M674.8 539.5h1.5M685.7 539.5h1.5M681.0 533.3v1.5M681.0 544.2v1.5" stroke="#e51e10" stroke-width="1" fill="none"/>
<circle cx="727.8" cy="539.5" r="5.6" fill="#e51e10"/><path d="M721.5999999999999 539.5h1.5M732.5 539.5h1.5M727.8 533.3v1.5M727.8 544.2v1.5" stroke="#e51e10" stroke-width="1" fill="none"/>
<circle cx="734.5" cy="539.5" r="5.6" fill="#e51e10"/><path d="M728.3 539.5h1.5M739.2 539.5h1.5M734.5 533.3v1.5M734.5 544.2v1.5" stroke="#e51e10" stroke-width="1" fill="none"/>
<circle cx="780.8" cy="539.5" r="5.6" fill="#e51e10"/><path d="M774.5999999999999 539.5h1.5M785.5 539.5h1.5M780.8 533.3v1.5M780.8 544.2v1.5" stroke="#e51e10" stroke-width="1" fill="none"/>
<circle cx="787.0" cy="539.5" r="5.6" fill="#e51e10"/><path d="M780.8 539.5h1.5M791.7 539.5h1.5M787.0 533.3v1.5M787.0 544.2v1.5" stroke="#e51e10" stroke-width="1" fill="none"/>
<circle cx="833.4" cy="539.5" r="5.6" fill="#e51e10"/><path d="M827.1999999999999 539.5h1.5M838.1 539.5h1.5M833.4 533.3v1.5M833.4 544.2v1.5" stroke="#e51e10" stroke-width="1" fill="none"/>
<circle cx="840.5" cy="539.5" r="5.6" fill="#e51e10"/><path d="M834.3 539.5h1.5M845.2 539.5h1.5M840.5 533.3v1.5M840.5 544.2v1.5" stroke="#e51e10" stroke-width="1" fill="none"/>
<circle cx="887.4" cy="539.5" r="5.6" fill="#e51e10"/><path d="M881.1999999999999 539.5h1.5M892.1 539.5h1.5M887.4 533.3v1.5M887.4 544.2v1.5" stroke="#e51e10" stroke-width="1" fill="none"/>
<circle cx="893.2" cy="539.5" r="5.6" fill="#e51e10"/><path d="M887.0 539.5h1.5M897.9000000000001 539.5h1.5M893.2 533.3v1.5M893.2 544.2v1.5" stroke="#e51e10" stroke-width="1" fill="none"/>
<circle cx="940.2" cy="539.5" r="5.6" fill="#e51e10"/><path d="M934.0 539.5h1.5M944.9000000000001 539.5h1.5M940.2 533.3v1.5M940.2 544.2v1.5" stroke="#e51e10" stroke-width="1" fill="none"/>
<circle cx="946.2" cy="539.5" r="5.6" fill="#e51e10"/><path d="M940.0 539.5h1.5M950.9000000000001 539.5h1.5M946.2 533.3v1.5M946.2 544.2v1.5" stroke="#e51e10" stroke-width="1" fill="none"/>
<circle cx="993.4" cy="539.5" r="5.6" fill="#e51e10"/><path d="M987.1999999999999 539.5h1.5M998.1 539.5h1.5M993.4 533.3v1.5M993.4 544.2v1.5" stroke="#e51e10" stroke-width="1" fill="none"/>
<circle cx="999.6" cy="539.5" r="5.6" fill="#e51e10"/><path d="M993.4 539.5h1.5M1004.3000000000001 539.5h1.5M999.6 533.3v1.5M999.6 544.2v1.5" stroke="#e51e10" stroke-width="1" fill="none"/>
<circle cx="1046.7" cy="539.5" r="5.6" fill="#e51e10"/><path d="M1040.5 539.5h1.5M1051.4 539.5h1.5M1046.7 533.3v1.5M1046.7 544.2v1.5" stroke="#e51e10" stroke-width="1" fill="none"/>
<circle cx="1052.6" cy="539.5" r="5.6" fill="#e51e10"/><path d="M1046.3999999999999 539.5h1.5M1057.3 539.5h1.5M1052.6 533.3v1.5M1052.6 544.2v1.5" stroke="#e51e10" stroke-width="1" fill="none"/>
<circle cx="1099.7" cy="539.5" r="5.6" fill="#e51e10"/><path d="M1093.5 539.5h1.5M1104.4 539.5h1.5M1099.7 533.3v1.5M1099.7 544.2v1.5" stroke="#e51e10" stroke-width="1" fill="none"/>
<circle cx="1105.9" cy="539.5" r="5.6" fill="#e51e10"/><path d="M1099.7 539.5h1.5M1110.6000000000001 539.5h1.5M1105.9 533.3v1.5M1105.9 544.2v1.5" stroke="#e51e10" stroke-width="1" fill="none"/>
<circle cx="1152.5" cy="539.5" r="5.6" fill="#e51e10"/><path d="M1146.3 539.5h1.5M1157.2 539.5h1.5M1152.5 533.3v1.5M1152.5 544.2v1.5" stroke="#e51e10" stroke-width="1" fill="none"/>
<circle cx="1159.2" cy="539.5" r="5.6" fill="#e51e10"/><path d="M1153.0 539.5h1.5M1163.9 539.5h1.5M1159.2 533.3v1.5M1159.2 544.2v1.5" stroke="#e51e10" stroke-width="1" fill="none"/>
<circle cx="1205.4" cy="539.5" r="5.6" fill="#e51e10"/><path d="M1199.2 539.5h1.5M1210.1000000000001 539.5h1.5M1205.4 533.3v1.5M1205.4 544.2v1.5" stroke="#e51e10" stroke-width="1" fill="none"/>
<circle cx="1212.5" cy="539.5" r="5.6" fill="#e51e10"/><path d="M1206.3 539.5h1.5M1217.2 539.5h1.5M1212.5 533.3v1.5M1212.5 544.2v1.5" stroke="#e51e10" stroke-width="1" fill="none"/>
<circle cx="1258.6" cy="539.5" r="5.6" fill="#e51e10"/><path d="M1252.3999999999999 539.5h1.5M1263.3 539.5h1.5M1258.6 533.3v1.5M1258.6 544.2v1.5" stroke="#e51e10" stroke-width="1" fill="none"/>
<circle cx="1265.8" cy="539.5" r="5.6" fill="#e51e10"/><path d="M1259.6 539.5h1.5M1270.5 539.5h1.5M1265.8 533.3v1.5M1265.8 544.2v1.5" stroke="#e51e10" stroke-width="1" fill="none"/>
<circle cx="1311.8" cy="539.5" r="5.6" fill="#e51e10"/><path d="M1305.6 539.5h1.5M1316.5 539.5h1.5M1311.8 533.3v1.5M1311.8 544.2v1.5" stroke="#e51e10" stroke-width="1" fill="none"/>
<circle cx="1318.2" cy="539.5" r="5.6" fill="#e51e10"/><path d="M1312.0 539.5h1.5M1322.9 539.5h1.5M1318.2 533.3v1.5M1318.2 544.2v1.5" stroke="#e51e10" stroke-width="1" fill="none"/>
<circle cx="1365.3" cy="539.5" r="5.6" fill="#e51e10"/><path d="M1359.1 539.5h1.5M1370.0 539.5h1.5M1365.3 533.3v1.5M1365.3 544.2v1.5" stroke="#e51e10" stroke-width="1" fill="none"/>
</g>
<path d="M86.2 350.0H155.625L147.325 362.7H94.5Z" fill="#e69f00"/>
<path d="M192.45 350.0H1377.5L1369.2 362.7H200.75Z" fill="#e69f00"/>
<text x="1109.0" y="77" textLength="182.24" lengthAdjust="spacing" xml:space="preserve">"Ypingresult.txt" using 1:2</text>
<text x="1091.0" y="96" textLength="199.31" lengthAdjust="spacing" xml:space="preserve">"YTimetcpping.txt" using 1:2</text>
<text x="1042.0" y="115" textLength="248.8" lengthAdjust="spacing" xml:space="preserve">"YCustPingSiteTimes.txt" using 1:2</text>
<text x="1096.0" y="134" textLength="195.11" lengthAdjust="spacing" xml:space="preserve">"Yofflineresult.txt" using 1:2</text>
<text x="1084.0" y="153" textLength="207.14" lengthAdjust="spacing" xml:space="preserve">"Ytcpoff_record.txt" using 1:2</text>
<text x="1121.0" y="172" textLength="170.07" lengthAdjust="spacing" xml:space="preserve">"Ycurltime.txt" using 1:2</text>
<text x="1095.0" y="191" textLength="195.86" lengthAdjust="spacing" xml:space="preserve">"Ycurldnstime.txt" using 1:2</text>
<text x="1055.0" y="210" textLength="236.17" lengthAdjust="spacing" xml:space="preserve">"YCustPingTimeout.txt" using 1:2</text>
<text x="1075.0" y="229" textLength="216.19" lengthAdjust="spacing" xml:space="preserve">"Ypingtargetchange" using 1:2</text>
<text x="1084.6" y="248" textLength="206.66" lengthAdjust="spacing" xml:space="preserve">"YHPpingresult.txt" using 1:2</text>
<text x="1071.0" y="267" textLength="219.61" lengthAdjust="spacing" xml:space="preserve">"YpingtargetISrouter" using 1:2</text>
<text x="1151.0" y="286" textLength="139.86" lengthAdjust="spacing" xml:space="preserve">"Ynoipv6" using 1:2</text>
<g>
<path d="M1303 73.5H1350" stroke="#9400d3" stroke-width="1" fill="none" shape-rendering="crispEdges"/>
<path d="M1303 92.5H1350" stroke="#009e73" stroke-width="1" fill="none" shape-rendering="crispEdges"/>
<path d="M1303 111.5H1350" stroke="#56b4e9" stroke-width="1" fill="none" shape-rendering="crispEdges"/>
<rect x="1320.5" y="124.5" width="12" height="12" fill="none" stroke="#e69f00" stroke-width="1"/>
<rect x="1320.0" y="143.0" width="13" height="13" fill="#f0e442"/>
<circle cx="1326.5" cy="168.5" r="5.0" fill="none" stroke="#0072b2" stroke-width="1.35"/><path d="M1320.3 168.5h1.5M1331.2 168.5h1.5M1326.5 162.3v1.5M1326.5 173.2v1.5" stroke="#0072b2" stroke-width="1" fill="none"/>
<circle cx="1326.5" cy="187.5" r="5.6" fill="#e51e10"/><path d="M1320.3 187.5h1.5M1331.2 187.5h1.5M1326.5 181.3v1.5M1326.5 192.2v1.5" stroke="#e51e10" stroke-width="1" fill="none"/>
<path d="M1326.5 198.4L1334.5 210.4H1318.5Z" fill="none" stroke="#000000" stroke-width="1" stroke-linejoin="round"/>
<path d="M1326.5 217.4L1334.5 229.4H1318.5Z" fill="#9400d3" stroke="#9400d3" stroke-width="1" stroke-linejoin="round"/>
<path d="M1320.0 244.5H1333.0M1326.5 238.0V251.0" fill="none" stroke="#009e73" stroke-width="1"/>
<path d="M1326.5 271.5L1334.5 259.5H1318.5Z" fill="none" stroke="#56b4e9" stroke-width="1" stroke-linejoin="round"/>
<path d="M1326.5 290.5L1334.5 278.5H1318.5Z" fill="none" stroke="#e69f00" stroke-width="1" stroke-linejoin="round"/>
</g>
<rect x="94.5" y="57.5" width="1275.0" height="482.0" fill="none" stroke="#000" stroke-width="1" shape-rendering="crispEdges"/>
<text x="81" y="543.0" text-anchor="end" xml:space="preserve">0</text>
<text x="81" y="425.0" text-anchor="end" xml:space="preserve">500</text>
<text x="81" y="308.0" text-anchor="end" xml:space="preserve">1000</text>
<text x="81" y="190.0" text-anchor="end" xml:space="preserve">1500</text>
<text x="81" y="73.0" text-anchor="end" xml:space="preserve">2000</text>
<text x="92.1" y="562" text-anchor="middle" xml:space="preserve">00:00</text>
<text x="198.3" y="562" text-anchor="middle" xml:space="preserve">02:00</text>
<text x="304.6" y="562" text-anchor="middle" xml:space="preserve">04:00</text>
<text x="410.9" y="562" text-anchor="middle" xml:space="preserve">06:00</text>
<text x="517.1" y="562" text-anchor="middle" xml:space="preserve">08:00</text>
<text x="623.4" y="562" text-anchor="middle" xml:space="preserve">10:00</text>
<text x="729.6" y="562" text-anchor="middle" xml:space="preserve">12:00</text>
<text x="835.9" y="562" text-anchor="middle" xml:space="preserve">14:00</text>
<text x="942.1" y="562" text-anchor="middle" xml:space="preserve">16:00</text>
<text x="1048.3" y="562" text-anchor="middle" xml:space="preserve">18:00</text>
<text x="1154.6" y="562" text-anchor="middle" xml:space="preserve">20:00</text>
<text x="1260.8" y="562" text-anchor="middle" xml:space="preserve">22:00</text>
<text x="1367.1" y="562" text-anchor="middle" xml:space="preserve">00:00</text>
<text x="467.8" y="32" textLength="522.27" lengthAdjust="spacing" xml:space="preserve">pi27 Dec 14  near/far ICMP/TCP ping and curl times [No msmt 1AM-2AM]</text>
<text x="373.0" y="590" textLength="712.94" lengthAdjust="spacing" xml:space="preserve">&lt;-START at 2AM Yday, right to 12AM Tday-&gt;, then wrap left to 1AM Tday&lt;- [ignore connecting lines]</text>
<text transform="translate(16.5 298.8) rotate(-90)" text-anchor="middle">msec</text>
</svg>
</body></html>
